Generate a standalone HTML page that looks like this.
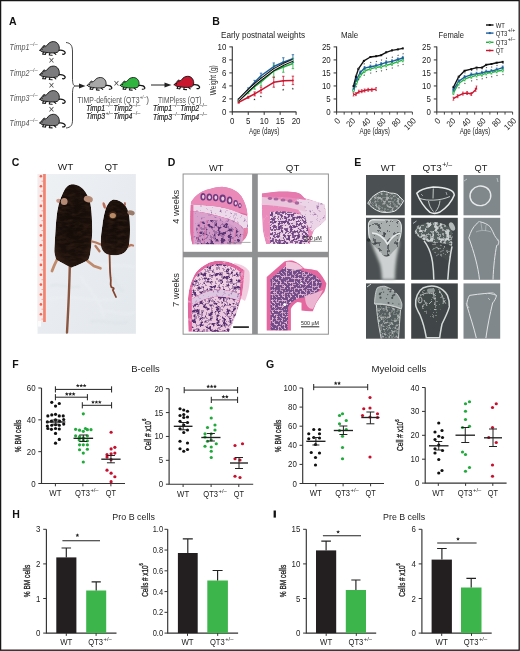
<!DOCTYPE html>
<html><head><meta charset="utf-8"><style>
html,body{margin:0;padding:0;background:#fff;}
body{width:520px;height:651px;overflow:hidden;}
svg{display:block;font-family:"Liberation Sans", sans-serif;will-change:transform;}
</style></head><body>
<svg width="520" height="651" viewBox="0 0 520 651">
<rect x="0" y="0" width="520" height="651" fill="#fff"/>
<text x="9.00" y="24.60" font-size="10.5" text-anchor="start" font-weight="bold" font-style="normal" fill="#111" >A</text>
<g transform="translate(39.80,41.50) scale(1.0,1.0)" stroke="#151515" stroke-width="0.95" stroke-linejoin="round" stroke-linecap="round"><path fill="none" stroke-width="1.25" d="M18.6,8.8 C21.5,8.4 24.5,9.2 25.3,10.8 C25.8,12.1 24.4,13 22.8,12.7" /><path fill="none" stroke-width="1.15" d="M3.8,10.3 L2.9,12.6 L4.9,12.8 M6.2,11 L5.6,12.9 M10.2,11.3 L9.5,13.5 L12.3,13.7 M14.2,11.3 L16,12.9" /><path fill="#7b7b7d" d="M0.2,8.8 C0.8,7.4 1.8,6.4 3,5.6 C3.2,4.0 4.8,3.5 5.7,4.6 C6.4,4.4 7,4.2 7.4,3.8 C8.6,1.4 11,0.1 13.6,0.1 C17,0.1 19.5,3 19.5,6.8 C19.5,8.6 18.8,10 17.6,10.8 C15,11.6 11,11.6 8.5,11.2 C6.5,11 4.5,10.6 3,10.4 C1.8,10.2 0.6,9.6 0.2,8.8 Z" /><path fill="none" stroke-width="0.7" d="M3.5,6 C3.7,5.1 4.5,4.8 5.1,5.4" /><circle cx="2.3" cy="7.7" r="0.65" fill="#111" stroke="none"/></g>
<text x="9.6" y="50.2" font-size="8.6" font-style="italic" fill="#555" textLength="19.8" lengthAdjust="spacingAndGlyphs">Timp1</text>
<text x="29.8" y="46.0" font-size="5.2" fill="#555" textLength="8" lengthAdjust="spacingAndGlyphs">–/–</text>
<g transform="translate(39.80,66.00) scale(1.0,1.0)" stroke="#151515" stroke-width="0.95" stroke-linejoin="round" stroke-linecap="round"><path fill="none" stroke-width="1.25" d="M18.6,8.8 C21.5,8.4 24.5,9.2 25.3,10.8 C25.8,12.1 24.4,13 22.8,12.7" /><path fill="none" stroke-width="1.15" d="M3.8,10.3 L2.9,12.6 L4.9,12.8 M6.2,11 L5.6,12.9 M10.2,11.3 L9.5,13.5 L12.3,13.7 M14.2,11.3 L16,12.9" /><path fill="#7b7b7d" d="M0.2,8.8 C0.8,7.4 1.8,6.4 3,5.6 C3.2,4.0 4.8,3.5 5.7,4.6 C6.4,4.4 7,4.2 7.4,3.8 C8.6,1.4 11,0.1 13.6,0.1 C17,0.1 19.5,3 19.5,6.8 C19.5,8.6 18.8,10 17.6,10.8 C15,11.6 11,11.6 8.5,11.2 C6.5,11 4.5,10.6 3,10.4 C1.8,10.2 0.6,9.6 0.2,8.8 Z" /><path fill="none" stroke-width="0.7" d="M3.5,6 C3.7,5.1 4.5,4.8 5.1,5.4" /><circle cx="2.3" cy="7.7" r="0.65" fill="#111" stroke="none"/></g>
<text x="9.6" y="76.3" font-size="8.6" font-style="italic" fill="#555" textLength="19.8" lengthAdjust="spacingAndGlyphs">Timp2</text>
<text x="29.8" y="72.1" font-size="5.2" fill="#555" textLength="8" lengthAdjust="spacingAndGlyphs">–/–</text>
<g transform="translate(39.80,90.50) scale(1.0,1.0)" stroke="#151515" stroke-width="0.95" stroke-linejoin="round" stroke-linecap="round"><path fill="none" stroke-width="1.25" d="M18.6,8.8 C21.5,8.4 24.5,9.2 25.3,10.8 C25.8,12.1 24.4,13 22.8,12.7" /><path fill="none" stroke-width="1.15" d="M3.8,10.3 L2.9,12.6 L4.9,12.8 M6.2,11 L5.6,12.9 M10.2,11.3 L9.5,13.5 L12.3,13.7 M14.2,11.3 L16,12.9" /><path fill="#7b7b7d" d="M0.2,8.8 C0.8,7.4 1.8,6.4 3,5.6 C3.2,4.0 4.8,3.5 5.7,4.6 C6.4,4.4 7,4.2 7.4,3.8 C8.6,1.4 11,0.1 13.6,0.1 C17,0.1 19.5,3 19.5,6.8 C19.5,8.6 18.8,10 17.6,10.8 C15,11.6 11,11.6 8.5,11.2 C6.5,11 4.5,10.6 3,10.4 C1.8,10.2 0.6,9.6 0.2,8.8 Z" /><path fill="none" stroke-width="0.7" d="M3.5,6 C3.7,5.1 4.5,4.8 5.1,5.4" /><circle cx="2.3" cy="7.7" r="0.65" fill="#111" stroke="none"/></g>
<text x="9.6" y="101.3" font-size="8.6" font-style="italic" fill="#555" textLength="19.8" lengthAdjust="spacingAndGlyphs">Timp3</text>
<text x="29.8" y="97.1" font-size="5.2" fill="#555" textLength="8" lengthAdjust="spacingAndGlyphs">–/–</text>
<g transform="translate(39.80,114.20) scale(1.0,1.0)" stroke="#151515" stroke-width="0.95" stroke-linejoin="round" stroke-linecap="round"><path fill="none" stroke-width="1.25" d="M18.6,8.8 C21.5,8.4 24.5,9.2 25.3,10.8 C25.8,12.1 24.4,13 22.8,12.7" /><path fill="none" stroke-width="1.15" d="M3.8,10.3 L2.9,12.6 L4.9,12.8 M6.2,11 L5.6,12.9 M10.2,11.3 L9.5,13.5 L12.3,13.7 M14.2,11.3 L16,12.9" /><path fill="#7b7b7d" d="M0.2,8.8 C0.8,7.4 1.8,6.4 3,5.6 C3.2,4.0 4.8,3.5 5.7,4.6 C6.4,4.4 7,4.2 7.4,3.8 C8.6,1.4 11,0.1 13.6,0.1 C17,0.1 19.5,3 19.5,6.8 C19.5,8.6 18.8,10 17.6,10.8 C15,11.6 11,11.6 8.5,11.2 C6.5,11 4.5,10.6 3,10.4 C1.8,10.2 0.6,9.6 0.2,8.8 Z" /><path fill="none" stroke-width="0.7" d="M3.5,6 C3.7,5.1 4.5,4.8 5.1,5.4" /><circle cx="2.3" cy="7.7" r="0.65" fill="#111" stroke="none"/></g>
<text x="9.6" y="125.8" font-size="8.6" font-style="italic" fill="#555" textLength="19.8" lengthAdjust="spacingAndGlyphs">Timp4</text>
<text x="29.8" y="121.6" font-size="5.2" fill="#555" textLength="8" lengthAdjust="spacingAndGlyphs">–/–</text>
<text x="51.4" y="64.2" font-size="10" text-anchor="middle" fill="#444">×</text>
<text x="51.4" y="88.8" font-size="10" text-anchor="middle" fill="#444">×</text>
<text x="51.4" y="113.0" font-size="10" text-anchor="middle" fill="#444">×</text>
<path d="M66,42.5 C71,43 72.5,46 72.5,52 L72.5,78 C72.5,83 73,85.3 75,86 C73,86.7 72.5,89 72.5,94 L72.5,120 C72.5,125 71,127.5 66,128" fill="none" stroke="#333" stroke-width="0.9"/>
<path d="M75,86 L80,86" stroke="#222" stroke-width="1"/><path d="M79,83.6 L85.5,86 L79,88.4 Z" fill="#222"/>
<g transform="translate(87.20,77.40) scale(0.97,0.93)" stroke="#151515" stroke-width="0.95" stroke-linejoin="round" stroke-linecap="round"><path fill="none" stroke-width="1.25" d="M18.6,8.8 C21.5,8.4 24.5,9.2 25.3,10.8 C25.8,12.1 24.4,13 22.8,12.7" /><path fill="none" stroke-width="1.15" d="M3.8,10.3 L2.9,12.6 L4.9,12.8 M6.2,11 L5.6,12.9 M10.2,11.3 L9.5,13.5 L12.3,13.7 M14.2,11.3 L16,12.9" /><path fill="#a8a8a8" d="M0.2,8.8 C0.8,7.4 1.8,6.4 3,5.6 C3.2,4.0 4.8,3.5 5.7,4.6 C6.4,4.4 7,4.2 7.4,3.8 C8.6,1.4 11,0.1 13.6,0.1 C17,0.1 19.5,3 19.5,6.8 C19.5,8.6 18.8,10 17.6,10.8 C15,11.6 11,11.6 8.5,11.2 C6.5,11 4.5,10.6 3,10.4 C1.8,10.2 0.6,9.6 0.2,8.8 Z" /><path fill="none" stroke-width="0.7" d="M3.5,6 C3.7,5.1 4.5,4.8 5.1,5.4" /><circle cx="2.3" cy="7.7" r="0.65" fill="#111" stroke="none"/></g>
<text x="116.3" y="87.4" font-size="10" text-anchor="middle" fill="#444">×</text>
<g transform="translate(120.20,77.40) scale(0.97,0.93)" stroke="#151515" stroke-width="0.95" stroke-linejoin="round" stroke-linecap="round"><path fill="none" stroke-width="1.25" d="M18.6,8.8 C21.5,8.4 24.5,9.2 25.3,10.8 C25.8,12.1 24.4,13 22.8,12.7" /><path fill="none" stroke-width="1.15" d="M3.8,10.3 L2.9,12.6 L4.9,12.8 M6.2,11 L5.6,12.9 M10.2,11.3 L9.5,13.5 L12.3,13.7 M14.2,11.3 L16,12.9" /><path fill="#2fb53f" d="M0.2,8.8 C0.8,7.4 1.8,6.4 3,5.6 C3.2,4.0 4.8,3.5 5.7,4.6 C6.4,4.4 7,4.2 7.4,3.8 C8.6,1.4 11,0.1 13.6,0.1 C17,0.1 19.5,3 19.5,6.8 C19.5,8.6 18.8,10 17.6,10.8 C15,11.6 11,11.6 8.5,11.2 C6.5,11 4.5,10.6 3,10.4 C1.8,10.2 0.6,9.6 0.2,8.8 Z" /><path fill="none" stroke-width="0.7" d="M3.5,6 C3.7,5.1 4.5,4.8 5.1,5.4" /><circle cx="2.3" cy="7.7" r="0.65" fill="#111" stroke="none"/></g>
<path d="M151,85 L166,85" stroke="#222" stroke-width="1"/><path d="M164.5,82.6 L171.5,85 L164.5,87.4 Z" fill="#222"/>
<g transform="translate(174.20,76.20) scale(1.0,0.98)" stroke="#151515" stroke-width="0.95" stroke-linejoin="round" stroke-linecap="round"><path fill="none" stroke-width="1.25" d="M18.6,8.8 C21.5,8.4 24.5,9.2 25.3,10.8 C25.8,12.1 24.4,13 22.8,12.7" /><path fill="none" stroke-width="1.15" d="M3.8,10.3 L2.9,12.6 L4.9,12.8 M6.2,11 L5.6,12.9 M10.2,11.3 L9.5,13.5 L12.3,13.7 M14.2,11.3 L16,12.9" /><path fill="#c8172e" d="M0.2,8.8 C0.8,7.4 1.8,6.4 3,5.6 C3.2,4.0 4.8,3.5 5.7,4.6 C6.4,4.4 7,4.2 7.4,3.8 C8.6,1.4 11,0.1 13.6,0.1 C17,0.1 19.5,3 19.5,6.8 C19.5,8.6 18.8,10 17.6,10.8 C15,11.6 11,11.6 8.5,11.2 C6.5,11 4.5,10.6 3,10.4 C1.8,10.2 0.6,9.6 0.2,8.8 Z" /><path fill="none" stroke-width="0.7" d="M3.5,6 C3.7,5.1 4.5,4.8 5.1,5.4" /><circle cx="2.3" cy="7.7" r="0.65" fill="#111" stroke="none"/></g>
<text x="77.5" y="103.2" font-size="8.2" fill="#555" textLength="62" lengthAdjust="spacingAndGlyphs">TIMP-deficient (QT3</text>
<text x="139.7" y="99.2" font-size="5" fill="#555" textLength="6.5" lengthAdjust="spacingAndGlyphs">+/–</text>
<text x="146.3" y="103.2" font-size="8.2" fill="#555">)</text>
<text x="86.2" y="111.0" font-size="8.4" font-style="italic" fill="#222" stroke="#222" stroke-width="0.2" textLength="19" lengthAdjust="spacingAndGlyphs">Timp1</text>
<text x="105.4" y="107.3" font-size="5.4" fill="#333" textLength="7.8" lengthAdjust="spacingAndGlyphs">–/–</text>
<text x="113.4" y="111.0" font-size="8.4" font-style="italic" fill="#222" stroke="#222" stroke-width="0.2" textLength="19" lengthAdjust="spacingAndGlyphs">Timp2</text>
<text x="132.6" y="107.3" font-size="5.4" fill="#333" textLength="7.8" lengthAdjust="spacingAndGlyphs">–/–</text>
<text x="86.2" y="118.8" font-size="8.4" font-style="italic" fill="#222" stroke="#222" stroke-width="0.2" textLength="19" lengthAdjust="spacingAndGlyphs">Timp3</text>
<text x="105.4" y="115.1" font-size="5.4" fill="#333" textLength="7.8" lengthAdjust="spacingAndGlyphs">+/–</text>
<text x="113.4" y="118.8" font-size="8.4" font-style="italic" fill="#222" stroke="#222" stroke-width="0.2" textLength="19" lengthAdjust="spacingAndGlyphs">Timp4</text>
<text x="132.6" y="115.1" font-size="5.4" fill="#333" textLength="7.8" lengthAdjust="spacingAndGlyphs">–/–</text>
<text x="158" y="103.2" font-size="8.2" fill="#555" textLength="43.5" lengthAdjust="spacingAndGlyphs">TIMPless (QT)</text>
<text x="153.0" y="111.0" font-size="8.4" font-style="italic" fill="#222" stroke="#222" stroke-width="0.2" textLength="19" lengthAdjust="spacingAndGlyphs">Timp1</text>
<text x="172.2" y="107.3" font-size="5.4" fill="#333" textLength="7.8" lengthAdjust="spacingAndGlyphs">–/–</text>
<text x="180.2" y="111.0" font-size="8.4" font-style="italic" fill="#222" stroke="#222" stroke-width="0.2" textLength="19" lengthAdjust="spacingAndGlyphs">Timp2</text>
<text x="199.4" y="107.3" font-size="5.4" fill="#333" textLength="7.8" lengthAdjust="spacingAndGlyphs">–/–</text>
<text x="153.0" y="119.6" font-size="8.4" font-style="italic" fill="#222" stroke="#222" stroke-width="0.2" textLength="19" lengthAdjust="spacingAndGlyphs">Timp3</text>
<text x="172.2" y="115.89999999999999" font-size="5.4" fill="#333" textLength="7.8" lengthAdjust="spacingAndGlyphs">–/–</text>
<text x="180.2" y="119.6" font-size="8.4" font-style="italic" fill="#222" stroke="#222" stroke-width="0.2" textLength="19" lengthAdjust="spacingAndGlyphs">Timp4</text>
<text x="199.4" y="115.89999999999999" font-size="5.4" fill="#333" textLength="7.8" lengthAdjust="spacingAndGlyphs">–/–</text>
<text x="212.30" y="24.60" font-size="10.5" text-anchor="start" font-weight="bold" font-style="normal" fill="#111" >B</text>
<text x="221.00" y="38.30" font-size="8.2" text-anchor="start" font-weight="normal" font-style="normal" fill="#222" textLength="84" lengthAdjust="spacingAndGlyphs" >Early postnatal weights</text>
<path d="M232.3,46.6 L232.3,111.9 L296.3,111.9" fill="none" stroke="#333" stroke-width="1.1"/>
<path d="M229.3,111.90 L232.3,111.90" stroke="#333" stroke-width="1"/>
<text x="226.40" y="114.90" font-size="9.0" text-anchor="end" font-weight="normal" font-style="normal" fill="#222" textLength="4.40" lengthAdjust="spacingAndGlyphs" >0</text>
<path d="M229.3,98.90 L232.3,98.90" stroke="#333" stroke-width="1"/>
<text x="226.40" y="101.90" font-size="9.0" text-anchor="end" font-weight="normal" font-style="normal" fill="#222" textLength="4.40" lengthAdjust="spacingAndGlyphs" >2</text>
<path d="M229.3,85.90 L232.3,85.90" stroke="#333" stroke-width="1"/>
<text x="226.40" y="88.90" font-size="9.0" text-anchor="end" font-weight="normal" font-style="normal" fill="#222" textLength="4.40" lengthAdjust="spacingAndGlyphs" >4</text>
<path d="M229.3,72.90 L232.3,72.90" stroke="#333" stroke-width="1"/>
<text x="226.40" y="75.90" font-size="9.0" text-anchor="end" font-weight="normal" font-style="normal" fill="#222" textLength="4.40" lengthAdjust="spacingAndGlyphs" >6</text>
<path d="M229.3,59.90 L232.3,59.90" stroke="#333" stroke-width="1"/>
<text x="226.40" y="62.90" font-size="9.0" text-anchor="end" font-weight="normal" font-style="normal" fill="#222" textLength="4.40" lengthAdjust="spacingAndGlyphs" >8</text>
<path d="M229.3,46.90 L232.3,46.90" stroke="#333" stroke-width="1"/>
<text x="226.40" y="49.90" font-size="9.0" text-anchor="end" font-weight="normal" font-style="normal" fill="#222" textLength="8.80" lengthAdjust="spacingAndGlyphs" >10</text>
<path d="M232.30,111.9 L232.30,114.9" stroke="#333" stroke-width="1"/>
<text x="232.30" y="123.60" font-size="9.0" text-anchor="middle" font-weight="normal" font-style="normal" fill="#222" textLength="4.40" lengthAdjust="spacingAndGlyphs" >0</text>
<path d="M248.25,111.9 L248.25,114.9" stroke="#333" stroke-width="1"/>
<text x="248.25" y="123.60" font-size="9.0" text-anchor="middle" font-weight="normal" font-style="normal" fill="#222" textLength="4.40" lengthAdjust="spacingAndGlyphs" >5</text>
<path d="M264.20,111.9 L264.20,114.9" stroke="#333" stroke-width="1"/>
<text x="264.20" y="123.60" font-size="9.0" text-anchor="middle" font-weight="normal" font-style="normal" fill="#222" textLength="8.80" lengthAdjust="spacingAndGlyphs" >10</text>
<path d="M280.15,111.9 L280.15,114.9" stroke="#333" stroke-width="1"/>
<text x="280.15" y="123.60" font-size="9.0" text-anchor="middle" font-weight="normal" font-style="normal" fill="#222" textLength="8.80" lengthAdjust="spacingAndGlyphs" >15</text>
<path d="M296.10,111.9 L296.10,114.9" stroke="#333" stroke-width="1"/>
<text x="296.10" y="123.60" font-size="9.0" text-anchor="middle" font-weight="normal" font-style="normal" fill="#222" textLength="8.80" lengthAdjust="spacingAndGlyphs" >20</text>
<text x="264.20" y="133.80" font-size="8.8" text-anchor="middle" font-weight="normal" font-style="normal" fill="#222" textLength="30.5" lengthAdjust="spacingAndGlyphs" >Age (days)</text>
<text transform="translate(212.37,80.20) rotate(-90)" x="0" y="0" font-size="9.4" font-weight="normal" text-anchor="middle" dominant-baseline="central" fill="#2a2a2a" textLength="30" lengthAdjust="spacingAndGlyphs">Weight (g)</text>
<path d="M238.68,99.22 L238.68,100.53 M237.48,99.22 L239.88,99.22 M237.48,100.53 L239.88,100.53" stroke="#1d5f9e" stroke-width="0.8" fill="none"/>
<path d="M248.25,87.92 L248.25,90.52 M247.05,87.92 L249.45,87.92 M247.05,90.52 L249.45,90.52" stroke="#1d5f9e" stroke-width="0.8" fill="none"/>
<path d="M254.63,80.38 L254.63,84.28 M253.43,80.38 L255.83,80.38 M253.43,84.28 L255.83,84.28" stroke="#1d5f9e" stroke-width="0.8" fill="none"/>
<path d="M261.01,73.16 L261.01,78.36 M259.81,73.16 L262.21,73.16 M259.81,78.36 L262.21,78.36" stroke="#1d5f9e" stroke-width="0.8" fill="none"/>
<path d="M273.77,62.95 L273.77,70.11 M272.57,62.95 L274.97,62.95 M272.57,70.11 L274.97,70.11" stroke="#1d5f9e" stroke-width="0.8" fill="none"/>
<path d="M283.34,57.76 L283.34,66.86 M282.14,57.76 L284.54,57.76 M282.14,66.86 L284.54,66.86" stroke="#1d5f9e" stroke-width="0.8" fill="none"/>
<path d="M292.91,54.70 L292.91,62.50 M291.71,54.70 L294.11,54.70 M291.71,62.50 L294.11,62.50" stroke="#1d5f9e" stroke-width="0.8" fill="none"/>
<path d="M238.68,99.88 L238.68,101.18 M237.48,99.88 L239.88,99.88 M237.48,101.18 L239.88,101.18" stroke="#22b03f" stroke-width="0.8" fill="none"/>
<path d="M248.25,91.10 L248.25,93.70 M247.05,91.10 L249.45,91.10 M247.05,93.70 L249.45,93.70" stroke="#22b03f" stroke-width="0.8" fill="none"/>
<path d="M254.63,83.95 L254.63,89.15 M253.43,83.95 L255.83,83.95 M253.43,89.15 L255.83,89.15" stroke="#22b03f" stroke-width="0.8" fill="none"/>
<path d="M261.01,78.10 L261.01,85.90 M259.81,78.10 L262.21,78.10 M259.81,85.90 L262.21,85.90" stroke="#22b03f" stroke-width="0.8" fill="none"/>
<path d="M273.77,65.10 L273.77,76.80 M272.57,65.10 L274.97,65.10 M272.57,76.80 L274.97,76.80" stroke="#22b03f" stroke-width="0.8" fill="none"/>
<path d="M283.34,61.85 L283.34,72.25 M282.14,61.85 L284.54,61.85 M282.14,72.25 L284.54,72.25" stroke="#22b03f" stroke-width="0.8" fill="none"/>
<path d="M292.91,58.27 L292.91,68.67 M291.71,58.27 L294.11,58.27 M291.71,68.67 L294.11,68.67" stroke="#22b03f" stroke-width="0.8" fill="none"/>
<path d="M238.68,101.76 L238.68,103.06 M237.48,101.76 L239.88,101.76 M237.48,103.06 L239.88,103.06" stroke="#cc1530" stroke-width="0.8" fill="none"/>
<path d="M248.25,96.30 L248.25,98.25 M247.05,96.30 L249.45,96.30 M247.05,98.25 L249.45,98.25" stroke="#cc1530" stroke-width="0.8" fill="none"/>
<path d="M254.63,91.95 L254.63,95.85 M253.43,91.95 L255.83,91.95 M253.43,95.85 L255.83,95.85" stroke="#cc1530" stroke-width="0.8" fill="none"/>
<path d="M261.01,87.14 L261.01,92.98 M259.81,87.14 L262.21,87.14 M259.81,92.98 L262.21,92.98" stroke="#cc1530" stroke-width="0.8" fill="none"/>
<path d="M273.77,77.45 L273.77,87.20 M272.57,77.45 L274.97,77.45 M272.57,87.20 L274.97,87.20" stroke="#cc1530" stroke-width="0.8" fill="none"/>
<path d="M283.34,76.28 L283.34,85.38 M282.14,76.28 L284.54,76.28 M282.14,85.38 L284.54,85.38" stroke="#cc1530" stroke-width="0.8" fill="none"/>
<path d="M292.91,76.15 L292.91,84.60 M291.71,76.15 L294.11,76.15 M291.71,84.60 L294.11,84.60" stroke="#cc1530" stroke-width="0.8" fill="none"/>
<polyline points="238.68,100.53 248.25,92.40 254.63,86.55 261.01,82.00 273.77,70.95 283.34,67.05 292.91,63.48" fill="none" stroke="#22b03f" stroke-width="1.5" stroke-linejoin="round" />
<polyline points="238.68,99.88 248.25,89.22 254.63,82.33 261.01,75.76 273.77,66.53 283.34,62.31 292.91,58.60" fill="none" stroke="#1d5f9e" stroke-width="1.5" stroke-linejoin="round" />
<polyline points="238.68,100.07 248.25,90.45 254.63,84.60 261.01,79.40 273.77,69.65 283.34,64.45 292.91,60.23" fill="none" stroke="#111" stroke-width="2.9" stroke-linejoin="round" />
<polyline points="238.68,100.07 248.25,90.45 254.63,84.60 261.01,79.40 273.77,69.65 283.34,64.45 292.91,60.23" fill="none" stroke="#fff" stroke-width="0.9" stroke-linejoin="round" />
<polyline points="238.68,102.41 248.25,97.28 254.63,93.90 261.01,90.06 273.77,82.33 283.34,80.83 292.91,80.38" fill="none" stroke="#cc1530" stroke-width="1.5" stroke-linejoin="round" />
<circle cx="238.68" cy="102.41" r="0.90" fill="#cc1530"/>
<circle cx="248.25" cy="97.28" r="0.90" fill="#cc1530"/>
<circle cx="254.63" cy="93.90" r="0.90" fill="#cc1530"/>
<circle cx="261.01" cy="90.06" r="0.90" fill="#cc1530"/>
<circle cx="273.77" cy="82.33" r="0.90" fill="#cc1530"/>
<circle cx="283.34" cy="80.83" r="0.90" fill="#cc1530"/>
<circle cx="292.91" cy="80.38" r="0.90" fill="#cc1530"/>
<polygon points="254.50,98.25 254.80,98.98 255.59,99.04 254.99,99.56 255.18,100.33 254.50,99.92 253.82,100.33 254.01,99.56 253.41,99.04 254.20,98.98" fill="#333"/>
<polygon points="260.90,95.25 261.20,95.98 261.99,96.04 261.39,96.56 261.58,97.33 260.90,96.92 260.22,97.33 260.41,96.56 259.81,96.04 260.60,95.98" fill="#333"/>
<polygon points="283.20,88.55 283.50,89.28 284.29,89.34 283.69,89.86 283.88,90.63 283.20,90.22 282.52,90.63 282.71,89.86 282.11,89.34 282.90,89.28" fill="#333"/>
<polygon points="292.80,87.55 293.10,88.28 293.89,88.34 293.29,88.86 293.48,89.63 292.80,89.22 292.12,89.63 292.31,88.86 291.71,88.34 292.50,88.28" fill="#333"/>
<text x="341.00" y="38.30" font-size="8.2" text-anchor="start" font-weight="normal" font-style="normal" fill="#222" textLength="17.2" lengthAdjust="spacingAndGlyphs" >Male</text>
<path d="M336.6,46.6 L336.6,112.0 L412.40000000000003,112.0" fill="none" stroke="#333" stroke-width="1.1"/>
<path d="M333.6,112.00 L336.6,112.00" stroke="#333" stroke-width="1"/>
<text x="330.70" y="115.00" font-size="9.0" text-anchor="end" font-weight="normal" font-style="normal" fill="#222" textLength="4.40" lengthAdjust="spacingAndGlyphs" >0</text>
<path d="M333.6,98.98 L336.6,98.98" stroke="#333" stroke-width="1"/>
<text x="330.70" y="101.98" font-size="9.0" text-anchor="end" font-weight="normal" font-style="normal" fill="#222" textLength="4.40" lengthAdjust="spacingAndGlyphs" >5</text>
<path d="M333.6,85.96 L336.6,85.96" stroke="#333" stroke-width="1"/>
<text x="330.70" y="88.96" font-size="9.0" text-anchor="end" font-weight="normal" font-style="normal" fill="#222" textLength="8.80" lengthAdjust="spacingAndGlyphs" >10</text>
<path d="M333.6,72.94 L336.6,72.94" stroke="#333" stroke-width="1"/>
<text x="330.70" y="75.94" font-size="9.0" text-anchor="end" font-weight="normal" font-style="normal" fill="#222" textLength="8.80" lengthAdjust="spacingAndGlyphs" >15</text>
<path d="M333.6,59.92 L336.6,59.92" stroke="#333" stroke-width="1"/>
<text x="330.70" y="62.92" font-size="9.0" text-anchor="end" font-weight="normal" font-style="normal" fill="#222" textLength="8.80" lengthAdjust="spacingAndGlyphs" >20</text>
<path d="M333.6,46.90 L336.6,46.90" stroke="#333" stroke-width="1"/>
<text x="330.70" y="49.90" font-size="9.0" text-anchor="end" font-weight="normal" font-style="normal" fill="#222" textLength="8.80" lengthAdjust="spacingAndGlyphs" >25</text>
<path d="M336.60,112.0 L336.60,114.6" stroke="#333" stroke-width="0.9"/>
<text transform="translate(336.20,117.0) rotate(-45)" x="0" y="0" font-size="8.6" text-anchor="end" dominant-baseline="hanging" fill="#222" textLength="4.3" lengthAdjust="spacingAndGlyphs">0</text>
<path d="M344.18,112.0 L344.18,114.6" stroke="#333" stroke-width="0.9"/>
<path d="M351.76,112.0 L351.76,114.6" stroke="#333" stroke-width="0.9"/>
<text transform="translate(351.36,117.0) rotate(-45)" x="0" y="0" font-size="8.6" text-anchor="end" dominant-baseline="hanging" fill="#222" textLength="8.6" lengthAdjust="spacingAndGlyphs">20</text>
<path d="M359.34,112.0 L359.34,114.6" stroke="#333" stroke-width="0.9"/>
<path d="M366.92,112.0 L366.92,114.6" stroke="#333" stroke-width="0.9"/>
<text transform="translate(366.52,117.0) rotate(-45)" x="0" y="0" font-size="8.6" text-anchor="end" dominant-baseline="hanging" fill="#222" textLength="8.6" lengthAdjust="spacingAndGlyphs">40</text>
<path d="M374.50,112.0 L374.50,114.6" stroke="#333" stroke-width="0.9"/>
<path d="M382.08,112.0 L382.08,114.6" stroke="#333" stroke-width="0.9"/>
<text transform="translate(381.68,117.0) rotate(-45)" x="0" y="0" font-size="8.6" text-anchor="end" dominant-baseline="hanging" fill="#222" textLength="8.6" lengthAdjust="spacingAndGlyphs">60</text>
<path d="M389.66,112.0 L389.66,114.6" stroke="#333" stroke-width="0.9"/>
<path d="M397.24,112.0 L397.24,114.6" stroke="#333" stroke-width="0.9"/>
<text transform="translate(396.84,117.0) rotate(-45)" x="0" y="0" font-size="8.6" text-anchor="end" dominant-baseline="hanging" fill="#222" textLength="8.6" lengthAdjust="spacingAndGlyphs">80</text>
<path d="M404.82,112.0 L404.82,114.6" stroke="#333" stroke-width="0.9"/>
<path d="M412.40,112.0 L412.40,114.6" stroke="#333" stroke-width="0.9"/>
<text transform="translate(412.00,117.0) rotate(-45)" x="0" y="0" font-size="8.6" text-anchor="end" dominant-baseline="hanging" fill="#222" textLength="12.9" lengthAdjust="spacingAndGlyphs">100</text>
<text x="374.70" y="134.20" font-size="8.8" text-anchor="middle" font-weight="normal" font-style="normal" fill="#222" textLength="30.5" lengthAdjust="spacingAndGlyphs" >Age (days)</text>
<path d="M353.50,88.20 L353.50,91.40 M352.60,88.20 L354.40,88.20 M352.60,91.40 L354.40,91.40" stroke="#1d5f9e" stroke-width="0.7" fill="none"/>
<path d="M356.60,77.40 L356.60,80.60 M355.70,77.40 L357.50,77.40 M355.70,80.60 L357.50,80.60" stroke="#1d5f9e" stroke-width="0.7" fill="none"/>
<path d="M360.30,70.90 L360.30,74.10 M359.40,70.90 L361.20,70.90 M359.40,74.10 L361.20,74.10" stroke="#1d5f9e" stroke-width="0.7" fill="none"/>
<path d="M364.60,66.50 L364.60,69.70 M363.70,66.50 L365.50,66.50 M363.70,69.70 L365.50,69.70" stroke="#1d5f9e" stroke-width="0.7" fill="none"/>
<path d="M370.40,65.10 L370.40,68.30 M369.50,65.10 L371.30,65.10 M369.50,68.30 L371.30,68.30" stroke="#1d5f9e" stroke-width="0.7" fill="none"/>
<path d="M376.10,64.10 L376.10,67.30 M375.20,64.10 L377.00,64.10 M375.20,67.30 L377.00,67.30" stroke="#1d5f9e" stroke-width="0.7" fill="none"/>
<path d="M381.20,62.60 L381.20,65.80 M380.30,62.60 L382.10,62.60 M380.30,65.80 L382.10,65.80" stroke="#1d5f9e" stroke-width="0.7" fill="none"/>
<path d="M386.20,60.80 L386.20,64.00 M385.30,60.80 L387.10,60.80 M385.30,64.00 L387.10,64.00" stroke="#1d5f9e" stroke-width="0.7" fill="none"/>
<path d="M392.00,59.80 L392.00,63.00 M391.10,59.80 L392.90,59.80 M391.10,63.00 L392.90,63.00" stroke="#1d5f9e" stroke-width="0.7" fill="none"/>
<path d="M397.80,57.90 L397.80,61.10 M396.90,57.90 L398.70,57.90 M396.90,61.10 L398.70,61.10" stroke="#1d5f9e" stroke-width="0.7" fill="none"/>
<path d="M402.80,56.40 L402.80,59.60 M401.90,56.40 L403.70,56.40 M401.90,59.60 L403.70,59.60" stroke="#1d5f9e" stroke-width="0.7" fill="none"/>
<path d="M353.50,88.90 L353.50,92.10 M352.60,88.90 L354.40,88.90 M352.60,92.10 L354.40,92.10" stroke="#22b03f" stroke-width="0.7" fill="none"/>
<path d="M356.60,81.00 L356.60,84.20 M355.70,81.00 L357.50,81.00 M355.70,84.20 L357.50,84.20" stroke="#22b03f" stroke-width="0.7" fill="none"/>
<path d="M360.30,73.80 L360.30,77.00 M359.40,73.80 L361.20,73.80 M359.40,77.00 L361.20,77.00" stroke="#22b03f" stroke-width="0.7" fill="none"/>
<path d="M364.60,69.40 L364.60,72.60 M363.70,69.40 L365.50,69.40 M363.70,72.60 L365.50,72.60" stroke="#22b03f" stroke-width="0.7" fill="none"/>
<path d="M370.40,67.30 L370.40,70.50 M369.50,67.30 L371.30,67.30 M369.50,70.50 L371.30,70.50" stroke="#22b03f" stroke-width="0.7" fill="none"/>
<path d="M376.10,65.80 L376.10,69.00 M375.20,65.80 L377.00,65.80 M375.20,69.00 L377.00,69.00" stroke="#22b03f" stroke-width="0.7" fill="none"/>
<path d="M381.20,65.10 L381.20,68.30 M380.30,65.10 L382.10,65.10 M380.30,68.30 L382.10,68.30" stroke="#22b03f" stroke-width="0.7" fill="none"/>
<path d="M386.20,63.70 L386.20,66.90 M385.30,63.70 L387.10,63.70 M385.30,66.90 L387.10,66.90" stroke="#22b03f" stroke-width="0.7" fill="none"/>
<path d="M392.00,62.20 L392.00,65.40 M391.10,62.20 L392.90,62.20 M391.10,65.40 L392.90,65.40" stroke="#22b03f" stroke-width="0.7" fill="none"/>
<path d="M397.80,60.00 L397.80,63.20 M396.90,60.00 L398.70,60.00 M396.90,63.20 L398.70,63.20" stroke="#22b03f" stroke-width="0.7" fill="none"/>
<path d="M402.80,58.60 L402.80,61.80 M401.90,58.60 L403.70,58.60 M401.90,61.80 L403.70,61.80" stroke="#22b03f" stroke-width="0.7" fill="none"/>
<polyline points="353.50,90.50 356.60,82.60 360.30,75.40 364.60,71.00 370.40,68.90 376.10,67.40 381.20,66.70 386.20,65.30 392.00,63.80 397.80,61.60 402.80,60.20" fill="none" stroke="#22b03f" stroke-width="1.4" stroke-linejoin="round" />
<polyline points="353.50,89.80 356.60,79.00 360.30,72.50 364.60,68.10 370.40,66.70 376.10,65.70 381.20,64.20 386.20,62.40 392.00,61.40 397.80,59.50 402.80,58.00" fill="none" stroke="#1d5f9e" stroke-width="1.4" stroke-linejoin="round" />
<polyline points="353.50,86.20 355.90,76.80 358.40,68.90 363.90,60.90 370.40,57.00 376.10,56.20 381.20,55.20 386.20,52.30 392.00,50.40 397.80,49.40 402.80,48.40" fill="none" stroke="#111" stroke-width="1.4" stroke-linejoin="round" />
<polyline points="353.50,94.50 355.90,94.10 358.80,91.70 361.70,91.20 364.60,90.50 368.20,89.80 371.80,89.80 376.10,89.10" fill="none" stroke="#cc1530" stroke-width="1.4" stroke-linejoin="round" />
<rect x="352.50" y="85.20" width="2.00" height="2.00" fill="#111"/>
<rect x="354.90" y="75.80" width="2.00" height="2.00" fill="#111"/>
<rect x="357.40" y="67.90" width="2.00" height="2.00" fill="#111"/>
<rect x="362.90" y="59.90" width="2.00" height="2.00" fill="#111"/>
<rect x="369.40" y="56.00" width="2.00" height="2.00" fill="#111"/>
<rect x="375.10" y="55.20" width="2.00" height="2.00" fill="#111"/>
<rect x="380.20" y="54.20" width="2.00" height="2.00" fill="#111"/>
<rect x="385.20" y="51.30" width="2.00" height="2.00" fill="#111"/>
<rect x="391.00" y="49.40" width="2.00" height="2.00" fill="#111"/>
<rect x="396.80" y="48.40" width="2.00" height="2.00" fill="#111"/>
<rect x="401.80" y="47.40" width="2.00" height="2.00" fill="#111"/>
<rect x="352.50" y="88.80" width="2.00" height="2.00" fill="#1d5f9e"/>
<rect x="355.60" y="78.00" width="2.00" height="2.00" fill="#1d5f9e"/>
<rect x="359.30" y="71.50" width="2.00" height="2.00" fill="#1d5f9e"/>
<rect x="363.60" y="67.10" width="2.00" height="2.00" fill="#1d5f9e"/>
<rect x="369.40" y="65.70" width="2.00" height="2.00" fill="#1d5f9e"/>
<rect x="375.10" y="64.70" width="2.00" height="2.00" fill="#1d5f9e"/>
<rect x="380.20" y="63.20" width="2.00" height="2.00" fill="#1d5f9e"/>
<rect x="385.20" y="61.40" width="2.00" height="2.00" fill="#1d5f9e"/>
<rect x="391.00" y="60.40" width="2.00" height="2.00" fill="#1d5f9e"/>
<rect x="396.80" y="58.50" width="2.00" height="2.00" fill="#1d5f9e"/>
<rect x="401.80" y="57.00" width="2.00" height="2.00" fill="#1d5f9e"/>
<circle cx="353.50" cy="90.50" r="0.90" fill="#fff" stroke="#22b03f" stroke-width="0.8"/>
<circle cx="356.60" cy="82.60" r="0.90" fill="#fff" stroke="#22b03f" stroke-width="0.8"/>
<circle cx="360.30" cy="75.40" r="0.90" fill="#fff" stroke="#22b03f" stroke-width="0.8"/>
<circle cx="364.60" cy="71.00" r="0.90" fill="#fff" stroke="#22b03f" stroke-width="0.8"/>
<circle cx="370.40" cy="68.90" r="0.90" fill="#fff" stroke="#22b03f" stroke-width="0.8"/>
<circle cx="376.10" cy="67.40" r="0.90" fill="#fff" stroke="#22b03f" stroke-width="0.8"/>
<circle cx="381.20" cy="66.70" r="0.90" fill="#fff" stroke="#22b03f" stroke-width="0.8"/>
<circle cx="386.20" cy="65.30" r="0.90" fill="#fff" stroke="#22b03f" stroke-width="0.8"/>
<circle cx="392.00" cy="63.80" r="0.90" fill="#fff" stroke="#22b03f" stroke-width="0.8"/>
<circle cx="397.80" cy="61.60" r="0.90" fill="#fff" stroke="#22b03f" stroke-width="0.8"/>
<circle cx="402.80" cy="60.20" r="0.90" fill="#fff" stroke="#22b03f" stroke-width="0.8"/>
<path d="M353.50,93.00 L353.50,96.00 M352.60,93.00 L354.40,93.00 M352.60,96.00 L354.40,96.00" stroke="#cc1530" stroke-width="0.7" fill="none"/>
<path d="M355.90,92.60 L355.90,95.60 M355.00,92.60 L356.80,92.60 M355.00,95.60 L356.80,95.60" stroke="#cc1530" stroke-width="0.7" fill="none"/>
<path d="M358.80,90.20 L358.80,93.20 M357.90,90.20 L359.70,90.20 M357.90,93.20 L359.70,93.20" stroke="#cc1530" stroke-width="0.7" fill="none"/>
<path d="M361.70,89.70 L361.70,92.70 M360.80,89.70 L362.60,89.70 M360.80,92.70 L362.60,92.70" stroke="#cc1530" stroke-width="0.7" fill="none"/>
<path d="M364.60,89.00 L364.60,92.00 M363.70,89.00 L365.50,89.00 M363.70,92.00 L365.50,92.00" stroke="#cc1530" stroke-width="0.7" fill="none"/>
<path d="M368.20,88.30 L368.20,91.30 M367.30,88.30 L369.10,88.30 M367.30,91.30 L369.10,91.30" stroke="#cc1530" stroke-width="0.7" fill="none"/>
<path d="M371.80,88.30 L371.80,91.30 M370.90,88.30 L372.70,88.30 M370.90,91.30 L372.70,91.30" stroke="#cc1530" stroke-width="0.7" fill="none"/>
<path d="M376.10,87.60 L376.10,90.60 M375.20,87.60 L377.00,87.60 M375.20,90.60 L377.00,90.60" stroke="#cc1530" stroke-width="0.7" fill="none"/>
<polygon points="356.20,73.85 356.45,74.45 357.10,74.51 356.61,74.93 356.76,75.57 356.20,75.23 355.64,75.57 355.79,74.93 355.30,74.51 355.95,74.45" fill="#444"/>
<polygon points="356.20,85.85 356.45,86.45 357.10,86.51 356.61,86.93 356.76,87.57 356.20,87.23 355.64,87.57 355.79,86.93 355.30,86.51 355.95,86.45" fill="#444"/>
<polygon points="358.70,67.35 358.95,67.95 359.60,68.01 359.11,68.43 359.26,69.07 358.70,68.73 358.14,69.07 358.29,68.43 357.80,68.01 358.45,67.95" fill="#444"/>
<polygon points="358.70,78.65 358.95,79.25 359.60,79.31 359.11,79.73 359.26,80.37 358.70,80.03 358.14,80.37 358.29,79.73 357.80,79.31 358.45,79.25" fill="#444"/>
<polygon points="364.20,62.95 364.45,63.55 365.10,63.61 364.61,64.03 364.76,64.67 364.20,64.33 363.64,64.67 363.79,64.03 363.30,63.61 363.95,63.55" fill="#444"/>
<polygon points="364.20,74.25 364.45,74.85 365.10,74.91 364.61,75.33 364.76,75.97 364.20,75.63 363.64,75.97 363.79,75.33 363.30,74.91 363.95,74.85" fill="#444"/>
<polygon points="370.70,61.55 370.95,62.15 371.60,62.21 371.11,62.63 371.26,63.27 370.70,62.93 370.14,63.27 370.29,62.63 369.80,62.21 370.45,62.15" fill="#444"/>
<polygon points="370.70,72.15 370.95,72.75 371.60,72.81 371.11,73.23 371.26,73.87 370.70,73.53 370.14,73.87 370.29,73.23 369.80,72.81 370.45,72.75" fill="#444"/>
<polygon points="376.40,60.55 376.65,61.15 377.30,61.21 376.81,61.63 376.96,62.27 376.40,61.93 375.84,62.27 375.99,61.63 375.50,61.21 376.15,61.15" fill="#444"/>
<polygon points="376.40,70.65 376.65,71.25 377.30,71.31 376.81,71.73 376.96,72.37 376.40,72.03 375.84,72.37 375.99,71.73 375.50,71.31 376.15,71.25" fill="#444"/>
<polygon points="381.50,59.05 381.75,59.65 382.40,59.71 381.91,60.13 382.06,60.77 381.50,60.43 380.94,60.77 381.09,60.13 380.60,59.71 381.25,59.65" fill="#444"/>
<polygon points="381.50,69.95 381.75,70.55 382.40,70.61 381.91,71.03 382.06,71.67 381.50,71.33 380.94,71.67 381.09,71.03 380.60,70.61 381.25,70.55" fill="#444"/>
<polygon points="386.50,57.25 386.75,57.85 387.40,57.91 386.91,58.33 387.06,58.97 386.50,58.63 385.94,58.97 386.09,58.33 385.60,57.91 386.25,57.85" fill="#444"/>
<polygon points="386.50,68.55 386.75,69.15 387.40,69.21 386.91,69.63 387.06,70.27 386.50,69.93 385.94,70.27 386.09,69.63 385.60,69.21 386.25,69.15" fill="#444"/>
<polygon points="392.30,56.25 392.55,56.85 393.20,56.91 392.71,57.33 392.86,57.97 392.30,57.63 391.74,57.97 391.89,57.33 391.40,56.91 392.05,56.85" fill="#444"/>
<polygon points="392.30,67.05 392.55,67.65 393.20,67.71 392.71,68.13 392.86,68.77 392.30,68.43 391.74,68.77 391.89,68.13 391.40,67.71 392.05,67.65" fill="#444"/>
<polygon points="398.10,54.35 398.35,54.95 399.00,55.01 398.51,55.43 398.66,56.07 398.10,55.73 397.54,56.07 397.69,55.43 397.20,55.01 397.85,54.95" fill="#444"/>
<polygon points="398.10,64.85 398.35,65.45 399.00,65.51 398.51,65.93 398.66,66.57 398.10,66.23 397.54,66.57 397.69,65.93 397.20,65.51 397.85,65.45" fill="#444"/>
<polygon points="403.10,52.85 403.35,53.45 404.00,53.51 403.51,53.93 403.66,54.57 403.10,54.23 402.54,54.57 402.69,53.93 402.20,53.51 402.85,53.45" fill="#444"/>
<polygon points="403.10,63.45 403.35,64.05 404.00,64.11 403.51,64.53 403.66,65.17 403.10,64.83 402.54,65.17 402.69,64.53 402.20,64.11 402.85,64.05" fill="#444"/>
<text x="438.60" y="38.30" font-size="8.2" text-anchor="start" font-weight="normal" font-style="normal" fill="#222" textLength="25.4" lengthAdjust="spacingAndGlyphs" >Female</text>
<path d="M436.8,46.6 L436.8,112.0 L512.6,112.0" fill="none" stroke="#333" stroke-width="1.1"/>
<path d="M433.8,112.00 L436.8,112.00" stroke="#333" stroke-width="1"/>
<text x="430.90" y="115.00" font-size="9.0" text-anchor="end" font-weight="normal" font-style="normal" fill="#222" textLength="4.40" lengthAdjust="spacingAndGlyphs" >0</text>
<path d="M433.8,98.98 L436.8,98.98" stroke="#333" stroke-width="1"/>
<text x="430.90" y="101.98" font-size="9.0" text-anchor="end" font-weight="normal" font-style="normal" fill="#222" textLength="4.40" lengthAdjust="spacingAndGlyphs" >5</text>
<path d="M433.8,85.96 L436.8,85.96" stroke="#333" stroke-width="1"/>
<text x="430.90" y="88.96" font-size="9.0" text-anchor="end" font-weight="normal" font-style="normal" fill="#222" textLength="8.80" lengthAdjust="spacingAndGlyphs" >10</text>
<path d="M433.8,72.94 L436.8,72.94" stroke="#333" stroke-width="1"/>
<text x="430.90" y="75.94" font-size="9.0" text-anchor="end" font-weight="normal" font-style="normal" fill="#222" textLength="8.80" lengthAdjust="spacingAndGlyphs" >15</text>
<path d="M433.8,59.92 L436.8,59.92" stroke="#333" stroke-width="1"/>
<text x="430.90" y="62.92" font-size="9.0" text-anchor="end" font-weight="normal" font-style="normal" fill="#222" textLength="8.80" lengthAdjust="spacingAndGlyphs" >20</text>
<path d="M433.8,46.90 L436.8,46.90" stroke="#333" stroke-width="1"/>
<text x="430.90" y="49.90" font-size="9.0" text-anchor="end" font-weight="normal" font-style="normal" fill="#222" textLength="8.80" lengthAdjust="spacingAndGlyphs" >25</text>
<path d="M436.80,112.0 L436.80,114.6" stroke="#333" stroke-width="0.9"/>
<text transform="translate(436.40,117.0) rotate(-45)" x="0" y="0" font-size="8.6" text-anchor="end" dominant-baseline="hanging" fill="#222" textLength="4.3" lengthAdjust="spacingAndGlyphs">0</text>
<path d="M444.38,112.0 L444.38,114.6" stroke="#333" stroke-width="0.9"/>
<path d="M451.96,112.0 L451.96,114.6" stroke="#333" stroke-width="0.9"/>
<text transform="translate(451.56,117.0) rotate(-45)" x="0" y="0" font-size="8.6" text-anchor="end" dominant-baseline="hanging" fill="#222" textLength="8.6" lengthAdjust="spacingAndGlyphs">20</text>
<path d="M459.54,112.0 L459.54,114.6" stroke="#333" stroke-width="0.9"/>
<path d="M467.12,112.0 L467.12,114.6" stroke="#333" stroke-width="0.9"/>
<text transform="translate(466.72,117.0) rotate(-45)" x="0" y="0" font-size="8.6" text-anchor="end" dominant-baseline="hanging" fill="#222" textLength="8.6" lengthAdjust="spacingAndGlyphs">40</text>
<path d="M474.70,112.0 L474.70,114.6" stroke="#333" stroke-width="0.9"/>
<path d="M482.28,112.0 L482.28,114.6" stroke="#333" stroke-width="0.9"/>
<text transform="translate(481.88,117.0) rotate(-45)" x="0" y="0" font-size="8.6" text-anchor="end" dominant-baseline="hanging" fill="#222" textLength="8.6" lengthAdjust="spacingAndGlyphs">60</text>
<path d="M489.86,112.0 L489.86,114.6" stroke="#333" stroke-width="0.9"/>
<path d="M497.44,112.0 L497.44,114.6" stroke="#333" stroke-width="0.9"/>
<text transform="translate(497.04,117.0) rotate(-45)" x="0" y="0" font-size="8.6" text-anchor="end" dominant-baseline="hanging" fill="#222" textLength="8.6" lengthAdjust="spacingAndGlyphs">80</text>
<path d="M505.02,112.0 L505.02,114.6" stroke="#333" stroke-width="0.9"/>
<path d="M512.60,112.0 L512.60,114.6" stroke="#333" stroke-width="0.9"/>
<text transform="translate(512.20,117.0) rotate(-45)" x="0" y="0" font-size="8.6" text-anchor="end" dominant-baseline="hanging" fill="#222" textLength="12.9" lengthAdjust="spacingAndGlyphs">100</text>
<text x="474.90" y="134.20" font-size="8.8" text-anchor="middle" font-weight="normal" font-style="normal" fill="#222" textLength="30.5" lengthAdjust="spacingAndGlyphs" >Age (days)</text>
<path d="M453.40,88.20 L453.40,91.40 M452.50,88.20 L454.30,88.20 M452.50,91.40 L454.30,91.40" stroke="#1d5f9e" stroke-width="0.7" fill="none"/>
<path d="M458.70,79.70 L458.70,82.90 M457.80,79.70 L459.60,79.70 M457.80,82.90 L459.60,82.90" stroke="#1d5f9e" stroke-width="0.7" fill="none"/>
<path d="M464.60,75.50 L464.60,78.70 M463.70,75.50 L465.50,75.50 M463.70,78.70 L465.50,78.70" stroke="#1d5f9e" stroke-width="0.7" fill="none"/>
<path d="M471.30,73.00 L471.30,76.20 M470.40,73.00 L472.20,73.00 M470.40,76.20 L472.20,76.20" stroke="#1d5f9e" stroke-width="0.7" fill="none"/>
<path d="M476.60,72.30 L476.60,75.50 M475.70,72.30 L477.50,72.30 M475.70,75.50 L477.50,75.50" stroke="#1d5f9e" stroke-width="0.7" fill="none"/>
<path d="M481.90,71.30 L481.90,74.50 M481.00,71.30 L482.80,71.30 M481.00,74.50 L482.80,74.50" stroke="#1d5f9e" stroke-width="0.7" fill="none"/>
<path d="M486.20,70.20 L486.20,73.40 M485.30,70.20 L487.10,70.20 M485.30,73.40 L487.10,73.40" stroke="#1d5f9e" stroke-width="0.7" fill="none"/>
<path d="M491.40,69.60 L491.40,72.80 M490.50,69.60 L492.30,69.60 M490.50,72.80 L492.30,72.80" stroke="#1d5f9e" stroke-width="0.7" fill="none"/>
<path d="M496.70,68.10 L496.70,71.30 M495.80,68.10 L497.60,68.10 M495.80,71.30 L497.60,71.30" stroke="#1d5f9e" stroke-width="0.7" fill="none"/>
<path d="M502.70,66.00 L502.70,69.20 M501.80,66.00 L503.60,66.00 M501.80,69.20 L503.60,69.20" stroke="#1d5f9e" stroke-width="0.7" fill="none"/>
<path d="M453.40,91.40 L453.40,94.60 M452.50,91.40 L454.30,91.40 M452.50,94.60 L454.30,94.60" stroke="#22b03f" stroke-width="0.7" fill="none"/>
<path d="M458.70,81.90 L458.70,85.10 M457.80,81.90 L459.60,81.90 M457.80,85.10 L459.60,85.10" stroke="#22b03f" stroke-width="0.7" fill="none"/>
<path d="M464.60,77.60 L464.60,80.80 M463.70,77.60 L465.50,77.60 M463.70,80.80 L465.50,80.80" stroke="#22b03f" stroke-width="0.7" fill="none"/>
<path d="M471.30,75.10 L471.30,78.30 M470.40,75.10 L472.20,75.10 M470.40,78.30 L472.20,78.30" stroke="#22b03f" stroke-width="0.7" fill="none"/>
<path d="M476.60,73.80 L476.60,77.00 M475.70,73.80 L477.50,73.80 M475.70,77.00 L477.50,77.00" stroke="#22b03f" stroke-width="0.7" fill="none"/>
<path d="M481.90,73.00 L481.90,76.20 M481.00,73.00 L482.80,73.00 M481.00,76.20 L482.80,76.20" stroke="#22b03f" stroke-width="0.7" fill="none"/>
<path d="M486.20,71.70 L486.20,74.90 M485.30,71.70 L487.10,71.70 M485.30,74.90 L487.10,74.90" stroke="#22b03f" stroke-width="0.7" fill="none"/>
<path d="M491.40,70.90 L491.40,74.10 M490.50,70.90 L492.30,70.90 M490.50,74.10 L492.30,74.10" stroke="#22b03f" stroke-width="0.7" fill="none"/>
<path d="M496.70,69.60 L496.70,72.80 M495.80,69.60 L497.60,69.60 M495.80,72.80 L497.60,72.80" stroke="#22b03f" stroke-width="0.7" fill="none"/>
<path d="M502.70,68.70 L502.70,71.90 M501.80,68.70 L503.60,68.70 M501.80,71.90 L503.60,71.90" stroke="#22b03f" stroke-width="0.7" fill="none"/>
<polyline points="453.40,93.00 458.70,83.50 464.60,79.20 471.30,76.70 476.60,75.40 481.90,74.60 486.20,73.30 491.40,72.50 496.70,71.20 502.70,70.30" fill="none" stroke="#22b03f" stroke-width="1.4" stroke-linejoin="round" />
<polyline points="453.40,89.80 458.70,81.30 464.60,77.10 471.30,74.60 476.60,73.90 481.90,72.90 486.20,71.80 491.40,71.20 496.70,69.70 502.70,67.60" fill="none" stroke="#1d5f9e" stroke-width="1.4" stroke-linejoin="round" />
<polyline points="453.40,87.30 458.70,76.70 464.60,70.80 471.30,69.10 476.60,67.60 481.90,67.60 486.20,64.80 491.40,64.00 496.70,62.70 502.70,61.90" fill="none" stroke="#111" stroke-width="1.4" stroke-linejoin="round" />
<polyline points="453.40,98.70 457.60,96.20 462.90,93.60 467.10,93.00 471.30,94.00 475.60,89.80 476.50,87.50" fill="none" stroke="#cc1530" stroke-width="1.4" stroke-linejoin="round" />
<rect x="452.40" y="86.30" width="2.00" height="2.00" fill="#111"/>
<rect x="457.70" y="75.70" width="2.00" height="2.00" fill="#111"/>
<rect x="463.60" y="69.80" width="2.00" height="2.00" fill="#111"/>
<rect x="470.30" y="68.10" width="2.00" height="2.00" fill="#111"/>
<rect x="475.60" y="66.60" width="2.00" height="2.00" fill="#111"/>
<rect x="480.90" y="66.60" width="2.00" height="2.00" fill="#111"/>
<rect x="485.20" y="63.80" width="2.00" height="2.00" fill="#111"/>
<rect x="490.40" y="63.00" width="2.00" height="2.00" fill="#111"/>
<rect x="495.70" y="61.70" width="2.00" height="2.00" fill="#111"/>
<rect x="501.70" y="60.90" width="2.00" height="2.00" fill="#111"/>
<rect x="452.40" y="88.80" width="2.00" height="2.00" fill="#1d5f9e"/>
<rect x="457.70" y="80.30" width="2.00" height="2.00" fill="#1d5f9e"/>
<rect x="463.60" y="76.10" width="2.00" height="2.00" fill="#1d5f9e"/>
<rect x="470.30" y="73.60" width="2.00" height="2.00" fill="#1d5f9e"/>
<rect x="475.60" y="72.90" width="2.00" height="2.00" fill="#1d5f9e"/>
<rect x="480.90" y="71.90" width="2.00" height="2.00" fill="#1d5f9e"/>
<rect x="485.20" y="70.80" width="2.00" height="2.00" fill="#1d5f9e"/>
<rect x="490.40" y="70.20" width="2.00" height="2.00" fill="#1d5f9e"/>
<rect x="495.70" y="68.70" width="2.00" height="2.00" fill="#1d5f9e"/>
<rect x="501.70" y="66.60" width="2.00" height="2.00" fill="#1d5f9e"/>
<circle cx="453.40" cy="93.00" r="0.90" fill="#fff" stroke="#22b03f" stroke-width="0.8"/>
<circle cx="458.70" cy="83.50" r="0.90" fill="#fff" stroke="#22b03f" stroke-width="0.8"/>
<circle cx="464.60" cy="79.20" r="0.90" fill="#fff" stroke="#22b03f" stroke-width="0.8"/>
<circle cx="471.30" cy="76.70" r="0.90" fill="#fff" stroke="#22b03f" stroke-width="0.8"/>
<circle cx="476.60" cy="75.40" r="0.90" fill="#fff" stroke="#22b03f" stroke-width="0.8"/>
<circle cx="481.90" cy="74.60" r="0.90" fill="#fff" stroke="#22b03f" stroke-width="0.8"/>
<circle cx="486.20" cy="73.30" r="0.90" fill="#fff" stroke="#22b03f" stroke-width="0.8"/>
<circle cx="491.40" cy="72.50" r="0.90" fill="#fff" stroke="#22b03f" stroke-width="0.8"/>
<circle cx="496.70" cy="71.20" r="0.90" fill="#fff" stroke="#22b03f" stroke-width="0.8"/>
<circle cx="502.70" cy="70.30" r="0.90" fill="#fff" stroke="#22b03f" stroke-width="0.8"/>
<path d="M453.40,97.20 L453.40,100.20 M452.50,97.20 L454.30,97.20 M452.50,100.20 L454.30,100.20" stroke="#cc1530" stroke-width="0.7" fill="none"/>
<path d="M457.60,94.70 L457.60,97.70 M456.70,94.70 L458.50,94.70 M456.70,97.70 L458.50,97.70" stroke="#cc1530" stroke-width="0.7" fill="none"/>
<path d="M462.90,92.10 L462.90,95.10 M462.00,92.10 L463.80,92.10 M462.00,95.10 L463.80,95.10" stroke="#cc1530" stroke-width="0.7" fill="none"/>
<path d="M467.10,91.50 L467.10,94.50 M466.20,91.50 L468.00,91.50 M466.20,94.50 L468.00,94.50" stroke="#cc1530" stroke-width="0.7" fill="none"/>
<path d="M471.30,92.50 L471.30,95.50 M470.40,92.50 L472.20,92.50 M470.40,95.50 L472.20,95.50" stroke="#cc1530" stroke-width="0.7" fill="none"/>
<path d="M475.60,88.30 L475.60,91.30 M474.70,88.30 L476.50,88.30 M474.70,91.30 L476.50,91.30" stroke="#cc1530" stroke-width="0.7" fill="none"/>
<path d="M476.50,86.00 L476.50,89.00 M475.60,86.00 L477.40,86.00 M475.60,89.00 L477.40,89.00" stroke="#cc1530" stroke-width="0.7" fill="none"/>
<polygon points="459.00,76.15 459.25,76.75 459.90,76.81 459.41,77.23 459.56,77.87 459.00,77.53 458.44,77.87 458.59,77.23 458.10,76.81 458.75,76.75" fill="#444"/>
<polygon points="459.00,86.75 459.25,87.35 459.90,87.41 459.41,87.83 459.56,88.47 459.00,88.13 458.44,88.47 458.59,87.83 458.10,87.41 458.75,87.35" fill="#444"/>
<polygon points="464.90,71.95 465.15,72.55 465.80,72.61 465.31,73.03 465.46,73.67 464.90,73.33 464.34,73.67 464.49,73.03 464.00,72.61 464.65,72.55" fill="#444"/>
<polygon points="464.90,82.45 465.15,83.05 465.80,83.11 465.31,83.53 465.46,84.17 464.90,83.83 464.34,84.17 464.49,83.53 464.00,83.11 464.65,83.05" fill="#444"/>
<polygon points="471.60,69.45 471.85,70.05 472.50,70.11 472.01,70.53 472.16,71.17 471.60,70.83 471.04,71.17 471.19,70.53 470.70,70.11 471.35,70.05" fill="#444"/>
<polygon points="471.60,79.95 471.85,80.55 472.50,80.61 472.01,81.03 472.16,81.67 471.60,81.33 471.04,81.67 471.19,81.03 470.70,80.61 471.35,80.55" fill="#444"/>
<polygon points="476.90,68.75 477.15,69.35 477.80,69.41 477.31,69.83 477.46,70.47 476.90,70.13 476.34,70.47 476.49,69.83 476.00,69.41 476.65,69.35" fill="#444"/>
<polygon points="476.90,78.65 477.15,79.25 477.80,79.31 477.31,79.73 477.46,80.37 476.90,80.03 476.34,80.37 476.49,79.73 476.00,79.31 476.65,79.25" fill="#444"/>
<polygon points="482.20,67.75 482.45,68.35 483.10,68.41 482.61,68.83 482.76,69.47 482.20,69.13 481.64,69.47 481.79,68.83 481.30,68.41 481.95,68.35" fill="#444"/>
<polygon points="482.20,77.85 482.45,78.45 483.10,78.51 482.61,78.93 482.76,79.57 482.20,79.23 481.64,79.57 481.79,78.93 481.30,78.51 481.95,78.45" fill="#444"/>
<polygon points="486.50,66.65 486.75,67.25 487.40,67.31 486.91,67.73 487.06,68.37 486.50,68.03 485.94,68.37 486.09,67.73 485.60,67.31 486.25,67.25" fill="#444"/>
<polygon points="486.50,76.55 486.75,77.15 487.40,77.21 486.91,77.63 487.06,78.27 486.50,77.93 485.94,78.27 486.09,77.63 485.60,77.21 486.25,77.15" fill="#444"/>
<polygon points="491.70,66.05 491.95,66.65 492.60,66.71 492.11,67.13 492.26,67.77 491.70,67.43 491.14,67.77 491.29,67.13 490.80,66.71 491.45,66.65" fill="#444"/>
<polygon points="491.70,75.75 491.95,76.35 492.60,76.41 492.11,76.83 492.26,77.47 491.70,77.13 491.14,77.47 491.29,76.83 490.80,76.41 491.45,76.35" fill="#444"/>
<polygon points="497.00,64.55 497.25,65.15 497.90,65.21 497.41,65.63 497.56,66.27 497.00,65.93 496.44,66.27 496.59,65.63 496.10,65.21 496.75,65.15" fill="#444"/>
<polygon points="497.00,74.45 497.25,75.05 497.90,75.11 497.41,75.53 497.56,76.17 497.00,75.83 496.44,76.17 496.59,75.53 496.10,75.11 496.75,75.05" fill="#444"/>
<polygon points="503.00,62.45 503.25,63.05 503.90,63.11 503.41,63.53 503.56,64.17 503.00,63.83 502.44,64.17 502.59,63.53 502.10,63.11 502.75,63.05" fill="#444"/>
<polygon points="503.00,73.55 503.25,74.15 503.90,74.21 503.41,74.63 503.56,75.27 503.00,74.93 502.44,75.27 502.59,74.63 502.10,74.21 502.75,74.15" fill="#444"/>
<path d="M486,25 L493.5,25" stroke="#111" stroke-width="1.4"/>
<rect x="488.80" y="24.00" width="2.00" height="2.00" fill="#111"/>
<text x="495.80" y="27.70" font-size="6.6" text-anchor="start" font-weight="normal" font-style="normal" fill="#222" textLength="9.2" lengthAdjust="spacingAndGlyphs" >WT</text>
<path d="M486,33.1 L493.5,33.1" stroke="#1d5f9e" stroke-width="1.4"/>
<rect x="488.80" y="32.10" width="2.00" height="2.00" fill="#1d5f9e"/>
<text x="495.80" y="35.80" font-size="6.6" text-anchor="start" font-weight="normal" font-style="normal" fill="#222" textLength="11.5" lengthAdjust="spacingAndGlyphs" >QT3</text>
<text x="507.70" y="31.90" font-size="5.4" text-anchor="start" font-weight="normal" font-style="normal" fill="#222" textLength="7.6" lengthAdjust="spacingAndGlyphs" >+/+</text>
<path d="M486,42.3 L493.5,42.3" stroke="#22b03f" stroke-width="1.4"/>
<circle cx="489.80" cy="42.30" r="1.00" fill="#fff" stroke="#22b03f" stroke-width="0.8"/>
<text x="495.80" y="45.00" font-size="6.6" text-anchor="start" font-weight="normal" font-style="normal" fill="#222" textLength="11.5" lengthAdjust="spacingAndGlyphs" >QT3</text>
<text x="507.70" y="41.10" font-size="5.4" text-anchor="start" font-weight="normal" font-style="normal" fill="#222" textLength="7.6" lengthAdjust="spacingAndGlyphs" >+/–</text>
<path d="M486,50.5 L493.5,50.5" stroke="#cc1530" stroke-width="1.4"/>
<circle cx="489.80" cy="50.50" r="1.00" fill="#cc1530"/>
<text x="495.80" y="53.20" font-size="6.6" text-anchor="start" font-weight="normal" font-style="normal" fill="#222" textLength="7.8" lengthAdjust="spacingAndGlyphs" >QT</text>
<text x="11.80" y="165.60" font-size="10.5" text-anchor="start" font-weight="bold" font-style="normal" fill="#111" >C</text>
<text x="65.50" y="170.40" font-size="9.6" text-anchor="middle" font-weight="normal" font-style="normal" fill="#222" textLength="15.5" lengthAdjust="spacingAndGlyphs" >WT</text>
<text x="111.30" y="170.40" font-size="9.6" text-anchor="middle" font-weight="normal" font-style="normal" fill="#222" textLength="13.5" lengthAdjust="spacingAndGlyphs" >QT</text>
<defs>
<linearGradient id="photoBg" x1="0" y1="0" x2="1" y2="1">
<stop offset="0" stop-color="#eef1f4"/><stop offset="0.5" stop-color="#e8ecf0"/><stop offset="1" stop-color="#e3e8ed"/>
</linearGradient>
<filter id="soft" x="-10%" y="-10%" width="120%" height="120%"><feGaussianBlur stdDeviation="0.4"/></filter>
<filter id="soft2" x="-10%" y="-10%" width="120%" height="120%"><feGaussianBlur stdDeviation="1.2"/></filter>
<filter id="fur" x="0" y="0" width="100%" height="100%" color-interpolation-filters="sRGB">
<feTurbulence type="fractalNoise" baseFrequency="0.12 0.3" numOctaves="3" seed="31" result="n"/>
<feColorMatrix in="n" type="matrix" values="0 0 0 0 0  0 0 0 0 0  0 0 0 0 0  1.2 0 0 0 -0.5" result="a"/>
<feGaussianBlur in="a" stdDeviation="0.7" result="ab"/>
<feFlood flood-color="#3e281d" result="f"/>
<feComposite in="f" in2="ab" operator="in" result="blobs"/>
<feComposite in="blobs" in2="SourceGraphic" operator="over" result="comb"/>
<feComposite in="comb" in2="SourceAlpha" operator="in" result="c2"/>
<feGaussianBlur in="c2" stdDeviation="0.4"/>
</filter>
<radialGradient id="furG" cx="0.5" cy="0.45" r="0.62">
<stop offset="0" stop-color="#130b07"/><stop offset="0.72" stop-color="#1a0f0a"/><stop offset="1" stop-color="#2f1d14"/>
</radialGradient>
</defs>
<rect x="37.5" y="174" width="98.4" height="159.8" fill="url(#photoBg)"/>
<g filter="url(#soft2)" stroke="#eef2f4" stroke-width="2.2" fill="none" opacity="0.45"><path d="M95,262 C110,270 125,262 135,268"/><path d="M48,300 C70,292 95,305 120,298"/><path d="M100,312 C110,308 125,318 135,312"/><path d="M80,276 C90,290 100,300 104,318"/></g>
<g filter="url(#soft2)" stroke="#d6dee3" stroke-width="2" fill="none" opacity="0.45"><path d="M50,286 C60,282 72,290 80,286"/><path d="M90,322 C100,318 112,326 128,322"/><path d="M110,268 C112,278 118,288 124,292"/></g>
<rect x="37.8" y="174" width="7.8" height="148" fill="#f6eaea"/>
<rect x="43.1" y="174" width="2.7" height="148" fill="#f4826f"/>
<circle cx="40.9" cy="176.3" r="1.3" fill="#f0624f"/>
<path d="M41.5,181.2 L43.3,181.2" stroke="#ee8a84" stroke-width="0.7"/>
<circle cx="40.9" cy="186.2" r="1.3" fill="#f0624f"/>
<path d="M41.5,191.1 L43.3,191.1" stroke="#ee8a84" stroke-width="0.7"/>
<circle cx="40.9" cy="196.0" r="1.3" fill="#f0624f"/>
<path d="M41.5,200.9 L43.3,200.9" stroke="#ee8a84" stroke-width="0.7"/>
<circle cx="40.9" cy="205.9" r="1.3" fill="#f0624f"/>
<path d="M41.5,210.8 L43.3,210.8" stroke="#ee8a84" stroke-width="0.7"/>
<circle cx="40.9" cy="215.7" r="1.3" fill="#f0624f"/>
<path d="M41.5,220.6 L43.3,220.6" stroke="#ee8a84" stroke-width="0.7"/>
<circle cx="40.9" cy="225.6" r="1.3" fill="#f0624f"/>
<path d="M41.5,230.5 L43.3,230.5" stroke="#ee8a84" stroke-width="0.7"/>
<circle cx="40.9" cy="235.4" r="1.3" fill="#f0624f"/>
<path d="M41.5,240.3 L43.3,240.3" stroke="#ee8a84" stroke-width="0.7"/>
<circle cx="40.9" cy="245.2" r="1.3" fill="#f0624f"/>
<path d="M41.5,250.2 L43.3,250.2" stroke="#ee8a84" stroke-width="0.7"/>
<circle cx="40.9" cy="255.1" r="1.3" fill="#f0624f"/>
<path d="M41.5,260.0 L43.3,260.0" stroke="#ee8a84" stroke-width="0.7"/>
<circle cx="40.9" cy="264.9" r="1.3" fill="#f0624f"/>
<path d="M41.5,269.8 L43.3,269.8" stroke="#ee8a84" stroke-width="0.7"/>
<circle cx="40.9" cy="274.8" r="1.3" fill="#f0624f"/>
<path d="M41.5,279.7 L43.3,279.7" stroke="#ee8a84" stroke-width="0.7"/>
<circle cx="40.9" cy="284.6" r="1.3" fill="#f0624f"/>
<path d="M41.5,289.5 L43.3,289.5" stroke="#ee8a84" stroke-width="0.7"/>
<circle cx="40.9" cy="294.5" r="1.3" fill="#f0624f"/>
<path d="M41.5,299.4 L43.3,299.4" stroke="#ee8a84" stroke-width="0.7"/>
<circle cx="40.9" cy="304.4" r="1.3" fill="#f0624f"/>
<path d="M41.5,309.2 L43.3,309.2" stroke="#ee8a84" stroke-width="0.7"/>
<circle cx="40.9" cy="314.2" r="1.3" fill="#f0624f"/>
<path d="M41.5,319.1 L43.3,319.1" stroke="#ee8a84" stroke-width="0.7"/>
<rect x="37.8" y="321" width="3.2" height="5.5" fill="#fbfbfb"/>
<g filter="url(#soft)"><path d="M69.8,266 C69.4,285 68.5,305 67.0,332.5" stroke="#8a5640" stroke-width="2.4" fill="none" stroke-linecap="round"/><path d="M57.5,258.5 L54,266 L52,271" stroke="#c08a6c" stroke-width="2.8" fill="none" stroke-linecap="round"/><path d="M87.5,261 L94,266 L100.4,268.3" stroke="#c08a6c" stroke-width="2.8" fill="none" stroke-linecap="round"/><ellipse cx="58.6" cy="200.8" rx="2.4" ry="2.1" fill="#c9978a"/></g>
<path d="M71.4,184.3 C76.5,184 81,186.5 84,190 C86.5,193 88.5,197 90,202 C91.6,208 92.3,220 92.2,231.8 C92,240 91,248 90.2,253.9 C89.5,257 88.8,259 88,260 C84,262.5 77,265.5 71.4,267.7 C66,265 60,262 56.2,259.4 C55,256 54.4,253 54.3,251.2 C54.5,244 55,238 55.4,231.8 C56,222 56.8,214 57.6,209.7 C58.5,204 60.5,198 62.5,194 C64.5,189 67.5,185 71.4,184.3 Z" fill="url(#furG)" filter="url(#fur)"/>
<g filter="url(#soft)"><ellipse cx="64.2" cy="201.6" rx="3.4" ry="3.5" fill="#b48a74"/><ellipse cx="88.3" cy="199.2" rx="4.6" ry="3.2" fill="#b48a74" transform="rotate(15 88.3 199.2)"/><path d="M109.5,254 C110,262 109.6,270 110.6,278 C111.5,283 109.6,284 111.3,287 C113,288.5 115,287.5 112.8,290 L116,297" stroke="#84452f" stroke-width="1.8" fill="none" stroke-linecap="round"/><path d="M102,245 L96,242.5 L92,241.5 M95.5,246 L99.5,251.3" stroke="#b87a5e" stroke-width="2.3" fill="none" stroke-linecap="round"/><path d="M127,247 L131,245 L133,245.5" stroke="#b87a5e" stroke-width="2.3" fill="none" stroke-linecap="round"/><ellipse cx="104.2" cy="205.5" rx="1.4" ry="3.4" fill="#c07058" transform="rotate(-15 104.2 205.5)"/><ellipse cx="124.9" cy="203.9" rx="1.1" ry="2" fill="#b07060"/></g>
<path d="M113.5,199.4 C118.5,199.4 123,202.5 126,206.5 C128.3,210 129.5,215 129.8,222 C130.2,230 130,238 129.2,244 C128,250 124.5,253.5 119.5,254.8 C115,255.6 110.5,255.5 107,254.3 C103.5,252.8 101.4,249.5 100.8,245 C100.5,239 101.3,232 102.3,226 C103,220 104,214 105.5,209.5 C107.3,204 110,200.2 113.5,199.4 Z" fill="url(#furG)" filter="url(#fur)"/>
<g filter="url(#soft)"><circle cx="112.8" cy="215.2" r="4" fill="#3a2418"/><ellipse cx="112.8" cy="215.6" rx="3.1" ry="2.7" fill="#b88a66"/><ellipse cx="131" cy="212.8" rx="3.8" ry="2.4" fill="#9a7a6a" transform="rotate(15 131 212.8)"/></g>
<text x="167.80" y="165.80" font-size="10.5" text-anchor="start" font-weight="bold" font-style="normal" fill="#111" >D</text>
<text x="216.30" y="170.80" font-size="9.6" text-anchor="middle" font-weight="normal" font-style="normal" fill="#222" textLength="14.5" lengthAdjust="spacingAndGlyphs" >WT</text>
<text x="292.60" y="170.80" font-size="9.6" text-anchor="middle" font-weight="normal" font-style="normal" fill="#222" textLength="13.5" lengthAdjust="spacingAndGlyphs" >QT</text>
<text transform="translate(175.45,206.80) rotate(-90)" x="0" y="0" font-size="9.6" font-weight="normal" text-anchor="middle" dominant-baseline="central" fill="#2a2a2a" textLength="34" lengthAdjust="spacingAndGlyphs">4 weeks</text>
<text transform="translate(175.45,290.00) rotate(-90)" x="0" y="0" font-size="9.6" font-weight="normal" text-anchor="middle" dominant-baseline="central" fill="#2a2a2a" textLength="34" lengthAdjust="spacingAndGlyphs">7 weeks</text>
<defs><filter id="tM" x="0" y="0" width="100%" height="100%" color-interpolation-filters="sRGB"><feTurbulence type="fractalNoise" baseFrequency="0.28" numOctaves="3" seed="3" result="n"/><feColorMatrix in="n" type="matrix" values="0 0 0 0 0  0 0 0 0 0  0 0 0 0 0  1 0 0 0 0" result="a"/><feComponentTransfer in="a" result="m"><feFuncA type="discrete" tableValues="0 0 0 0 0.4 1 1 1"/></feComponentTransfer><feFlood flood-color="#5e3676" result="f"/><feComposite in="f" in2="m" operator="in" result="blobs"/><feComposite in="blobs" in2="SourceGraphic" operator="over" result="comb"/><feComposite in="comb" in2="SourceAlpha" operator="in"/></filter><filter id="tMd" x="0" y="0" width="100%" height="100%" color-interpolation-filters="sRGB"><feTurbulence type="fractalNoise" baseFrequency="0.3" numOctaves="3" seed="4" result="n"/><feColorMatrix in="n" type="matrix" values="0 0 0 0 0  0 0 0 0 0  0 0 0 0 0  1 0 0 0 0" result="a"/><feComponentTransfer in="a" result="m"><feFuncA type="discrete" tableValues="0 0 0 0 0.45 1 1 1"/></feComponentTransfer><feFlood flood-color="#5a3372" result="f"/><feComposite in="f" in2="m" operator="in" result="blobs"/><feComposite in="blobs" in2="SourceGraphic" operator="over" result="comb"/><feComposite in="comb" in2="SourceAlpha" operator="in"/></filter><filter id="tM2" x="0" y="0" width="100%" height="100%" color-interpolation-filters="sRGB"><feTurbulence type="fractalNoise" baseFrequency="0.42" numOctaves="3" seed="5" result="n"/><feColorMatrix in="n" type="matrix" values="0 0 0 0 0  0 0 0 0 0  0 0 0 0 0  1 0 0 0 0" result="a"/><feComponentTransfer in="a" result="m"><feFuncA type="discrete" tableValues="0 0 0 0.12 0.8 1 1 1"/></feComponentTransfer><feFlood flood-color="#6a4080" result="f"/><feComposite in="f" in2="m" operator="in" result="blobs"/><feComposite in="blobs" in2="SourceGraphic" operator="over" result="comb"/><feComposite in="comb" in2="SourceAlpha" operator="in"/></filter><filter id="tM3" x="0" y="0" width="100%" height="100%" color-interpolation-filters="sRGB"><feTurbulence type="fractalNoise" baseFrequency="0.5" numOctaves="3" seed="6" result="n"/><feColorMatrix in="n" type="matrix" values="0 0 0 0 0  0 0 0 0 0  0 0 0 0 0  1 0 0 0 0" result="a"/><feComponentTransfer in="a" result="m"><feFuncA type="discrete" tableValues="0 0 0 0.3 0.95 1 1 1"/></feComponentTransfer><feFlood flood-color="#6e4a86" result="f"/><feComposite in="f" in2="m" operator="in" result="blobs"/><feComposite in="blobs" in2="SourceGraphic" operator="over" result="comb"/><feComposite in="comb" in2="SourceAlpha" operator="in"/></filter><filter id="tS" x="0" y="0" width="100%" height="100%" color-interpolation-filters="sRGB"><feTurbulence type="fractalNoise" baseFrequency="0.3" numOctaves="3" seed="7" result="n"/><feColorMatrix in="n" type="matrix" values="0 0 0 0 0  0 0 0 0 0  0 0 0 0 0  1 0 0 0 0" result="a"/><feComponentTransfer in="a" result="m"><feFuncA type="discrete" tableValues="0 0 0 0 0 0.3 0.8 1"/></feComponentTransfer><feFlood flood-color="#9a6aa8" result="f"/><feComposite in="f" in2="m" operator="in" result="blobs"/><feComposite in="blobs" in2="SourceGraphic" operator="over" result="comb"/><feComposite in="comb" in2="SourceAlpha" operator="in"/></filter><filter id="tP" x="0" y="0" width="100%" height="100%" color-interpolation-filters="sRGB"><feTurbulence type="fractalNoise" baseFrequency="0.22" numOctaves="3" seed="9" result="n"/><feColorMatrix in="n" type="matrix" values="0 0 0 0 0  0 0 0 0 0  0 0 0 0 0  1 0 0 0 0" result="a"/><feComponentTransfer in="a" result="m0"><feFuncA type="discrete" tableValues="0 0 0 0 0 0.4 0.8 1"/></feComponentTransfer><feGaussianBlur in="m0" stdDeviation="0.3" result="m"/><feFlood flood-color="#f0a6cb" result="f"/><feComposite in="f" in2="m" operator="in" result="blobs"/><feComposite in="blobs" in2="SourceGraphic" operator="over" result="comb"/><feComposite in="comb" in2="SourceAlpha" operator="in"/></filter></defs>
<rect x="182.6" y="173.5" width="146.3" height="161.2" fill="#8f9092"/>
<rect x="183.6" y="174.5" width="68.5" height="77.3" fill="#fff"/>
<rect x="257.8" y="174.5" width="70.1" height="77.3" fill="#fff"/>
<rect x="183.6" y="257.3" width="68.5" height="76.4" fill="#fff"/>
<rect x="257.8" y="257.3" width="70.1" height="76.4" fill="#fff"/>
<defs><clipPath id="cWT4"><path d="M191,202 C196,194 203,190 209.7,188.9 C215,187.5 220,186.5 223.5,186.9 C231,187.5 238,191 241.6,196.5 C245,202 247,208 247.5,214.5 C248,222 248,228 247.8,232.6 C247,237 244,240 241.6,242.3 L241.5,244.3 L192.4,244.3 C191,238 190.3,233 190.3,228.4 C190.3,218 190.5,208 191,202 Z"/></clipPath></defs>
<path d="M191,202 C196,194 203,190 209.7,188.9 C215,187.5 220,186.5 223.5,186.9 C231,187.5 238,191 241.6,196.5 C245,202 247,208 247.5,214.5 C248,222 248,228 247.8,232.6 C247,237 244,240 241.6,242.3 L241.5,244.3 L192.4,244.3 C191,238 190.3,233 190.3,228.4 C190.3,218 190.5,208 191,202 Z" fill="#e2689f" filter="url(#tP)"/>
<g clip-path="url(#cWT4)">
<path d="M185,186 L252,186 L252,216 C246,214 240,212 237.7,212.3 C230,209.5 224,207.5 222.9,207.4 C212,205.5 200,204.5 185,204 Z" fill="#e98ab9"/>
<ellipse cx="203.0" cy="196.8" rx="2.6" ry="3.8" fill="#6e3a80"/>
<ellipse cx="203.20" cy="196.80" rx="1.25" ry="2.09" fill="#f0c8dc"/>
<ellipse cx="209.3" cy="197.2" rx="2.8" ry="3.6" fill="#6e3a80"/>
<ellipse cx="209.50" cy="197.20" rx="1.34" ry="1.98" fill="#f0c8dc"/>
<ellipse cx="215.6" cy="197.6" rx="2.8" ry="3.7" fill="#6e3a80"/>
<ellipse cx="215.80" cy="197.60" rx="1.34" ry="2.04" fill="#f0c8dc"/>
<ellipse cx="222.6" cy="198.6" rx="3.2" ry="4.0" fill="#6e3a80"/>
<ellipse cx="222.80" cy="198.60" rx="1.54" ry="2.20" fill="#f0c8dc"/>
<ellipse cx="229.6" cy="200.4" rx="2.8" ry="3.8" fill="#6e3a80"/>
<ellipse cx="229.80" cy="200.40" rx="1.34" ry="2.09" fill="#f0c8dc"/>
<ellipse cx="235.6" cy="203.2" rx="2.2" ry="3.3" fill="#6e3a80"/>
<ellipse cx="235.80" cy="203.20" rx="1.06" ry="1.81" fill="#f0c8dc"/>
<ellipse cx="239.8" cy="205.6" rx="1.7" ry="2.6" fill="#6e3a80"/>
<ellipse cx="240.00" cy="205.60" rx="0.82" ry="1.43" fill="#f0c8dc"/>
<path d="M185,204 C200,204.5 212,205.5 222.9,207.4 C228,208.5 234,210.5 237.7,212.3 C241,213.6 244,215 252,217 L252,236 C249,234.5 247.5,233.8 246.3,233.2 C245.2,231.5 244.5,230.5 243.8,229.5 C242,226.5 240,225 237.7,223.4 C234,221 230,219.5 226.6,218.5 C221,216.5 215,215.3 210.6,214.2 C203,212.5 196,211 185,210.5 Z" fill="#ecdaeb" filter="url(#tS)"/>
<path d="M185,210.5 C196,211 203,212.5 210.6,214.2 C215,215.3 221,216.5 226.6,218.5 C230,219.5 234,221 237.7,223.4 C240,225 242,226.5 243.8,229.5 C244.5,230.5 245.2,231.5 246.3,233.2 L252,236 L252,246 L185,246 Z" fill="#d9a2cc" filter="url(#tS)"/>
<path d="M197,223 C204,219.5 214,219 224,221.5 C232,224 238,228.5 241.5,234 L241,244.5 L197,244.5 C196,237 196,230 197,223 Z" fill="#cf97c6" filter="url(#tM)"/>
<path d="M201,221 L197.5,240 M207,220 L203.5,243 M236,228 L233,244" stroke="#e283b5" stroke-width="1.1" fill="none"/>
<path d="M185,205 L193.4,205 L193.4,246 L185,246 Z" fill="#e2689f" opacity="0.9"/>
<path d="M244,228 L252,228 L252,246 L242,246 Z" fill="#e5769f" opacity="0.85"/>
</g>
<path d="M227.5,242.4 L250.6,242.4" stroke="#8a8a8a" stroke-width="0.7"/>
<defs><clipPath id="cQT4"><path d="M261.7,193.6 C275,191 288,191 295.8,192.2 C300,193 302,195 304.4,197.9 C312,200 319,202 324.3,204.3 C326,210 326,215 325.7,220 C322,224 318,227 314.3,229.9 C312,235 311,240 310,244.1 L266,244.1 C264,237 262.5,231 262.4,225.6 C262,215 261.5,203 261.7,193.6 Z"/></clipPath></defs>
<path d="M261.7,193.6 C275,191 288,191 295.8,192.2 C300,193 302,195 304.4,197.9 C312,200 319,202 324.3,204.3 C326,210 326,215 325.7,220 C322,224 318,227 314.3,229.9 C312,235 311,240 310,244.1 L266,244.1 C264,237 262.5,231 262.4,225.6 C262,215 261.5,203 261.7,193.6 Z" fill="#e98cbb" filter="url(#tP)"/>
<g clip-path="url(#cQT4)">
<path d="M297,196 C305,199 315,201 327,204 L327,222 C320,226 315,229 312,232 C306,224 300,214 297,206 Z" fill="#ebd5e7" filter="url(#tS)"/>
<path d="M262,197 C275,198 290,201 304,206 L306,212 C290,207 275,205 262,205 Z" fill="#eac6dd"/>
<path d="M262,190 C278,189 292,190 300,193 C304,195 305,198 306,200 C292,197 276,196 262,197 Z" fill="#e67aae"/>
<ellipse cx="270" cy="198.5" rx="2.2" ry="1.4" fill="#a8669e"/>
<ellipse cx="276" cy="199" rx="2.5" ry="1.5" fill="#a8669e"/>
<ellipse cx="283" cy="200" rx="2.5" ry="1.6" fill="#a8669e"/>
<ellipse cx="290" cy="201" rx="2.6" ry="1.8" fill="#a8669e"/>
<ellipse cx="297" cy="203" rx="2.3" ry="1.8" fill="#a8669e"/>
<path d="M270,212 C282,210 295,212 305,216 C308,225 309,235 309,244.2 L270,244.2 Z" fill="#f0d6e8" filter="url(#tM2)"/>
</g>
<text x="312.80" y="240.30" font-size="5.6" text-anchor="middle" font-weight="normal" font-style="normal" fill="#222" textLength="18" lengthAdjust="spacingAndGlyphs" >500 µM</text>
<path d="M304,241.3 L322,241.3" stroke="#333" stroke-width="0.5"/>
<defs><clipPath id="cWT7"><path d="M188.4,331.8 L187.7,304.8 C188,290 191,280 196.2,272 C203,265 210,261 217.6,260.7 C225,260.5 231,262 236,265 C240,267 243,269 244.6,270.6 C244,280 243,290 241.7,296.3 C238,310 233,322 229,331.8 Z"/></clipPath></defs>
<path d="M234,263 C241,264 247,267 249.5,272 C250.5,280 249,292 245,301 L240,298 Z" fill="#f2cde0"/>
<path d="M188.4,331.8 L187.7,304.8 C188,290 191,280 196.2,272 C203,265 210,261 217.6,260.7 C225,260.5 231,262 236,265 C240,267 243,269 244.6,270.6 C244,280 243,290 241.7,296.3 C238,310 233,322 229,331.8 Z" fill="#e2679f" filter="url(#tP)"/>
<g clip-path="url(#cWT7)">
<path d="M192.5,282 C197,272 206,265 217.6,264 C227,264 235,267 240.5,272 C240.8,280 240.5,288 240,294 C232,290.5 222,289 214,290 C205,291.5 197,295.5 191.5,299.5 Z" fill="#efd0e2" filter="url(#tMd)"/>
<path d="M191.5,299.5 C197,295.5 205,291.5 214,290 C222,289 232,290.5 240,294 L239.5,301 C232,297.5 222,296 214,297 C205,298.5 197,302.5 191.5,306.5 Z" fill="#dcc6e0" filter="url(#tS)"/>
<path d="M191.5,306.5 C197,302.5 205,298.5 214,297 C222,296 232,297.5 239.5,301 C238,312 234,322 231,332 L192,332 Z" fill="#ecc8df" filter="url(#tMd)"/>
</g>
<path d="M233.2,327.1 L248.9,327.1" stroke="#222" stroke-width="1.7"/>
<defs><clipPath id="cQT7"><path d="M266.7,330.4 L266.7,277 L284.4,261.4 C288,260.5 291,260.4 293,260.7 C297,262 301,265 304.4,268.5 C309,269 314,269.5 317.2,270.6 C321,274 324,279 326.4,283.4 C326,287 325,290 324.3,292 C321,296 318,300 315.7,304 C314.5,307 313.5,309.5 312.9,311.2 C309,311.5 305,311 301.5,310.5 L301.5,302.7 C300,302.5 298.5,302.2 297.3,302 C294,304 292,306 290.9,309 L290.9,330.4 Z"/></clipPath></defs>
<path d="M266.7,330.4 L266.7,277 L284.4,261.4 C288,260.5 291,260.4 293,260.7 C297,262 301,265 304.4,268.5 C309,269 314,269.5 317.2,270.6 C321,274 324,279 326.4,283.4 C326,287 325,290 324.3,292 C321,296 318,300 315.7,304 C314.5,307 313.5,309.5 312.9,311.2 C309,311.5 305,311 301.5,310.5 L301.5,302.7 C300,302.5 298.5,302.2 297.3,302 C294,304 292,306 290.9,309 L290.9,330.4 Z" fill="#e4689f"/>
<g clip-path="url(#cQT7)">
<path d="M270.5,330.5 L270.5,279 L285.5,266 C292,265 298,267 302,271 C310,272 318,275 322,283 C321,290 315,296 307,298 C300,296 293,300 288.5,306 L287.5,330.5 Z" fill="#e2b4d4" filter="url(#tM3)"/>
<path d="M286,262 C292,261 298,263 303,268 C298,271 292,270 286,268 Z" fill="#efc6dc"/>
<path d="M305,296 C312,294 318,292 323,290 C320,297 316,302 313,309 C309,309 305,306 305,296 Z" fill="#ecb6d2"/>
</g>
<circle cx="284.7" cy="304.6" r="1.5" fill="#fff"/><circle cx="301.2" cy="283.3" r="1" fill="#fff"/>
<text x="310.00" y="325.20" font-size="5.6" text-anchor="middle" font-weight="normal" font-style="normal" fill="#222" textLength="18" lengthAdjust="spacingAndGlyphs" >500 µM</text>
<path d="M301,326.8 L319.3,326.8" stroke="#111" stroke-width="0.9"/>
<text x="354.20" y="165.80" font-size="10.5" text-anchor="start" font-weight="bold" font-style="normal" fill="#111" >E</text>
<text x="388.20" y="171.30" font-size="9.3" text-anchor="middle" font-weight="normal" font-style="normal" fill="#222" textLength="14.8" lengthAdjust="spacingAndGlyphs" >WT</text>
<text x="422.50" y="171.30" font-size="9.3" text-anchor="start" font-weight="normal" font-style="normal" fill="#222" textLength="19.2" lengthAdjust="spacingAndGlyphs" >QT3</text>
<text x="442.20" y="166.80" font-size="6.3" text-anchor="start" font-weight="normal" font-style="normal" fill="#222" textLength="9.8" lengthAdjust="spacingAndGlyphs" >+/–</text>
<text x="481.00" y="171.30" font-size="9.3" text-anchor="middle" font-weight="normal" font-style="normal" fill="#222" textLength="12.8" lengthAdjust="spacingAndGlyphs" >QT</text>
<rect x="366.0" y="175.0" width="38.8" height="40.3" fill="#4b5152"/>
<rect x="366.0" y="217.8" width="38.8" height="62.0" fill="#4b5152"/>
<rect x="366.0" y="283.4" width="38.8" height="55.3" fill="#4b5152"/>
<rect x="411.2" y="175.0" width="46.6" height="40.3" fill="#3f4546"/>
<rect x="411.2" y="217.8" width="46.6" height="62.0" fill="#3f4546"/>
<rect x="411.2" y="283.4" width="46.6" height="55.3" fill="#3f4546"/>
<rect x="463.5" y="175.0" width="36.7" height="40.3" fill="#80888c"/>
<rect x="463.5" y="217.8" width="36.7" height="62.0" fill="#80888c"/>
<rect x="463.5" y="283.4" width="36.7" height="55.3" fill="#80888c"/>
<defs><filter id="ctb" x="-5%" y="-5%" width="110%" height="110%"><feGaussianBlur stdDeviation="0.35"/></filter><filter id="ctb2" x="-20%" y="-20%" width="140%" height="140%"><feGaussianBlur stdDeviation="1.4"/></filter><filter id="tC1" x="0" y="0" width="100%" height="100%" color-interpolation-filters="sRGB"><feTurbulence type="fractalNoise" baseFrequency="0.36" numOctaves="3" seed="21" result="n"/><feColorMatrix in="n" type="matrix" values="0 0 0 0 0  0 0 0 0 0  0 0 0 0 0  1 0 0 0 0" result="a"/><feComponentTransfer in="a" result="m0"><feFuncA type="discrete" tableValues="0 0 0 0 0.4 0.9 1 1"/></feComponentTransfer><feGaussianBlur in="m0" stdDeviation="0.45" result="m"/><feFlood flood-color="#a9afaf" result="f"/><feComposite in="f" in2="m" operator="in" result="blobs"/><feComposite in="blobs" in2="SourceGraphic" operator="over" result="comb"/><feComposite in="comb" in2="SourceAlpha" operator="in"/></filter><filter id="tC2" x="0" y="0" width="100%" height="100%" color-interpolation-filters="sRGB"><feTurbulence type="fractalNoise" baseFrequency="0.26" numOctaves="3" seed="22" result="n"/><feColorMatrix in="n" type="matrix" values="0 0 0 0 0  0 0 0 0 0  0 0 0 0 0  1 0 0 0 0" result="a"/><feComponentTransfer in="a" result="m0"><feFuncA type="discrete" tableValues="0 0 0 0 0.6 1 1 1"/></feComponentTransfer><feGaussianBlur in="m0" stdDeviation="0.45" result="m"/><feFlood flood-color="#c9cfcf" result="f"/><feComposite in="f" in2="m" operator="in" result="blobs"/><feComposite in="blobs" in2="SourceGraphic" operator="over" result="comb"/><feComposite in="comb" in2="SourceAlpha" operator="in"/></filter><filter id="tC3" x="0" y="0" width="100%" height="100%" color-interpolation-filters="sRGB"><feTurbulence type="fractalNoise" baseFrequency="0.22" numOctaves="3" seed="23" result="n"/><feColorMatrix in="n" type="matrix" values="0 0 0 0 0  0 0 0 0 0  0 0 0 0 0  1 0 0 0 0" result="a"/><feComponentTransfer in="a" result="m0"><feFuncA type="discrete" tableValues="0 0 0 0 0 0.7 1 1"/></feComponentTransfer><feGaussianBlur in="m0" stdDeviation="0.5" result="m"/><feFlood flood-color="#454b4c" result="f"/><feComposite in="f" in2="m" operator="in" result="blobs"/><feComposite in="blobs" in2="SourceGraphic" operator="over" result="comb"/><feComposite in="comb" in2="SourceAlpha" operator="in"/></filter><filter id="tC4" x="0" y="0" width="100%" height="100%" color-interpolation-filters="sRGB"><feTurbulence type="fractalNoise" baseFrequency="0.32" numOctaves="3" seed="24" result="n"/><feColorMatrix in="n" type="matrix" values="0 0 0 0 0  0 0 0 0 0  0 0 0 0 0  1 0 0 0 0" result="a"/><feComponentTransfer in="a" result="m0"><feFuncA type="discrete" tableValues="0 0 0 0 0 0.5 1 1"/></feComponentTransfer><feGaussianBlur in="m0" stdDeviation="0.45" result="m"/><feFlood flood-color="#b0b6b6" result="f"/><feComposite in="f" in2="m" operator="in" result="blobs"/><feComposite in="blobs" in2="SourceGraphic" operator="over" result="comb"/><feComposite in="comb" in2="SourceAlpha" operator="in"/></filter></defs>
<g filter="url(#ctb)"><path d="M367.8,203.2 C369.5,200.5 371.5,197.5 373.5,196 C377,193.5 380,191.5 383.2,191.2 C386.5,191.5 389,193 391,193.2 C394,193 396.5,193.8 398,195 L403.6,200.8 C401.5,205 398.5,209 394.7,211.2 C390,212.6 386,212.6 382,212.2 C377,211.2 372,208 367.8,203.2 Z" fill="#5f6666" filter="url(#tC1)"/><path d="M367.8,203.2 C369.5,200.5 371.5,197.5 373.5,196 C377,193.5 380,191.5 383.2,191.2 C386.5,191.5 389,193 391,193.2 C394,193 396.5,193.8 398,195 L403.6,200.8 C401.5,205 398.5,209 394.7,211.2 C390,212.6 386,212.6 382,212.2 C377,211.2 372,208 367.8,203.2 Z" fill="none" stroke="#e6e9ea" stroke-width="1"/><path d="M416.8,193.2 C419,190.5 425,188 433.2,187 C440,187.3 446,188.3 448.5,189.3 C452,190.5 454,192.5 454.3,195 C452,201 446,208 440,212 C437,213.5 433,213.7 430,212.4 C425,208 420,201 416.8,193.2 Z" fill="#3f4546" stroke="#e6e9ea" stroke-width="1.5"/><path d="M433.3,188.5 L433,198.5 M420,198.5 C427,201 440,201 450,196.5 M428.5,201 C429,205 431,209 433.5,211.5 M440,200.5 C439.5,205 438,209 435.5,211.5" stroke="#d2d6d6" stroke-width="0.9" fill="none"/><path d="M421,194 L423,196 M446,192 L447,195" stroke="#c0c5c5" stroke-width="0.7" fill="none"/><ellipse cx="480.4" cy="195.8" rx="10.4" ry="9.8" fill="none" stroke="#e6e9ea" stroke-width="1.4" transform="rotate(-10 480.4 195.8)"/><path d="M464,181 L467,179 M497,178 L498,182" stroke="#c9cdcd" stroke-width="0.8"/></g>
<g><path filter="url(#ctb2)" d="M371,241 C373,248 377,256 380,264 C381.5,270 381.8,276 382,279.8 L395,279.8 C395,272 395.5,262 398,250 C399,246 399.5,243 399,241 Z" fill="#cdd1d1"/><path d="M367.9,223.7 C368.5,221 370.5,219.5 372.8,219.4 L397.5,219.9 C400.5,221 401.8,224 401.8,228 C401.5,234 400,239 398.6,242 C396,244 392,245 388,246 C384,245 378,244 372,243 C369.5,240 368.3,236 368.5,232 Z" fill="#a9afaf" filter="url(#tC3)"/><path d="M371,233 C378,234 383,238 386,243 L388.5,244 C391,238 395,234 400,233 L399,246 L393,252 C390,256 387,258 384,256 L378,250 L372,244 Z" fill="#9ea4a4" filter="url(#tC3)"/><g filter="url(#ctb)"><path d="M368.5,224 C369,221 371,219.8 373,219.6 L397.5,220 C400.3,221 401.5,224 401.5,228 C401.3,234 400,239 398.6,242" stroke="#dfe2e2" stroke-width="1.1" fill="none"/><path d="M368.5,224 C368.3,230 368.5,236 370,240" stroke="#dfe2e2" stroke-width="1.1" fill="none"/><path d="M372,233 C379,233 384,238 387.5,244 C391,238 395,234 400.5,233" stroke="#e8ebeb" stroke-width="1.6" fill="none"/><circle cx="368.5" cy="240" r="1.8" fill="#2c3030"/></g></g>
<g filter="url(#ctb)"><path d="M415,233.4 C414.5,229 416.5,226 419.8,224.8 C425,222.5 430,222 434.9,222 C440,222.8 446,224.5 448.9,226.9 C451.5,229 452.6,232 452.6,235.5 C452.6,239 452.3,243 452,246.3 C446,243 438,242 432,243 C426,241 420,239.5 415,233.4 Z" fill="#555b5c" filter="url(#tC2)"/><path d="M432,243 C440,244 446,246 451,250 L449,262 C444,258 438,254 433,252 Z" fill="#454b4c" filter="url(#tC4)"/><path d="M424.1,240.9 C428,246 431,252 432.5,262 C433.3,268 433.8,274 433.8,279.7" stroke="#d9dddd" stroke-width="1.5" fill="none"/><path d="M452,246.3 C450,256 448.5,266 447.8,279.7" stroke="#d9dddd" stroke-width="1.5" fill="none"/><path d="M432,250 L437,247 M440,252 L444,250 M436,256 L439,254" stroke="#aab0b0" stroke-width="0.6"/><ellipse cx="452" cy="226.5" rx="2.6" ry="4.5" fill="#b4baba" transform="rotate(-25 452 226.5)"/><path d="M413,223.5 L416.5,221" stroke="#ccd" stroke-width="0.8"/></g>
<path filter="url(#ctb)" d="M479.5,279.6 C478,266 474,252 468.8,237.7 C470.5,232 473,227 476.3,224.2 C478,222 479,221.6 479.5,221.5 M479.8,221.8 C484,222.5 488,224.5 490.3,226.9 C492,230 493.5,233 494.6,235.5 C496,238 497.5,239.5 498.3,240.9 M496.7,245.2 C495,254 493.5,266 493,279.6" stroke="#e0e3e4" stroke-width="1" fill="none"/><path d="M481,223 L482,230 M486,225 L485.5,231 M476,232 C480,230 486,230 491,232" stroke="#c3c8ca" stroke-width="0.6" fill="none"/><path d="M497,239 C499,240 499.5,243 497.5,245.5" stroke="#c9cdcf" stroke-width="1.2" fill="none"/>
<g filter="url(#ctb)"><path d="M374.5,304 C374.8,297 375.5,291 377.4,287.7 C380,286.4 383,286.2 385,286.3 C390,288 394,290.5 396.6,293.5 C399.5,297 401.2,301 401.9,304 C402,306 401.8,307.5 401.4,308.8 C395,306 388,304.5 381,304 Z" fill="#9aa1a1" stroke="#d7dbdb" stroke-width="0.8"/><circle cx="387.7" cy="294.6" r="0.60" fill="#4b5152"/><circle cx="396.2" cy="289.1" r="0.85" fill="#4b5152"/><circle cx="396.9" cy="290.2" r="0.89" fill="#4b5152"/><circle cx="390.9" cy="289.6" r="0.77" fill="#4b5152"/><circle cx="392.8" cy="295.8" r="1.01" fill="#4b5152"/><circle cx="381.3" cy="292.6" r="0.58" fill="#4b5152"/><circle cx="388.6" cy="302.9" r="0.91" fill="#4b5152"/><circle cx="394.3" cy="294.8" r="1.02" fill="#4b5152"/><circle cx="380.1" cy="293.4" r="0.97" fill="#4b5152"/><circle cx="393.2" cy="295.3" r="0.56" fill="#4b5152"/><circle cx="383.6" cy="292.1" r="0.70" fill="#4b5152"/><circle cx="395.0" cy="292.0" r="1.12" fill="#4b5152"/><circle cx="396.5" cy="289.8" r="0.77" fill="#4b5152"/><circle cx="388.3" cy="289.4" r="0.80" fill="#4b5152"/><circle cx="397.0" cy="290.7" r="0.92" fill="#4b5152"/><circle cx="380.5" cy="297.7" r="1.13" fill="#4b5152"/><circle cx="382.3" cy="289.1" r="0.56" fill="#4b5152"/><circle cx="389.3" cy="289.3" r="0.56" fill="#4b5152"/><circle cx="388.4" cy="302.8" r="0.79" fill="#4b5152"/><circle cx="386.4" cy="298.6" r="0.57" fill="#4b5152"/><circle cx="390.2" cy="291.6" r="0.93" fill="#4b5152"/><circle cx="398.1" cy="289.8" r="0.89" fill="#4b5152"/><circle cx="390.7" cy="291.2" r="0.69" fill="#4b5152"/><circle cx="398.9" cy="304.0" r="0.58" fill="#4b5152"/><circle cx="392.8" cy="303.3" r="0.67" fill="#4b5152"/><circle cx="390.8" cy="289.6" r="0.76" fill="#4b5152"/><circle cx="392.2" cy="297.9" r="1.04" fill="#4b5152"/><circle cx="379.8" cy="294.2" r="1.10" fill="#4b5152"/><path d="M376.4,305 C377,315 378.5,325 381.2,338.6 L398.5,338.6 C399,328 400,318 400.5,309.8 C393,307 385,305.5 376.4,305 Z" fill="#575e5e" filter="url(#tC1)"/><path d="M376.4,305 C377,315 378.5,325 381.2,338.6 M400.5,309.8 C400,318 399,328 398.5,338.6 M375,304 C385,304 394,306 401.4,309" stroke="#cdd1d1" stroke-width="1" fill="none"/><path d="M367,287 L371,284" stroke="#ccd0d0" stroke-width="1"/></g>
<g filter="url(#ctb)"><path d="M415.7,305 C415,298 418,291 423.4,287.7 C428,286 433,285.8 436.8,286.7 C441,288 445,291 447.4,295.4 C449,299 449.5,303 449.3,306.9 C448,312 445,318 442,324 C441,329 440.2,333 439.7,337.7 L426.3,337.7 C425,330 423,322 420,315 C418,311 416,308 415.7,305 Z" fill="#3f4546" stroke="#d5d9d9" stroke-width="1.5"/><path d="M417.5,303 C418,296 421,291 425,289 C430,287.5 436,287.5 440,289.5 C444,292 447,296 447.5,302 C444,306 441,310 438,311 C432,309 426,309 421,310 Z" fill="#434949" filter="url(#tC4)"/><path d="M421,310 C426,314 433,318 437,322 L438,312 Z" fill="#3f4546" filter="url(#tC4)"/><path d="M420,296 C425,292 432,292 436,296 M433,288 L434,297 M440,292 C443,296 444,300 443,304 M424,300 L427,306 M429,304 L432,301" stroke="#b9bfbf" stroke-width="0.9" fill="none"/><ellipse cx="420" cy="300" rx="2" ry="3" fill="none" stroke="#c2c7c7" stroke-width="0.8"/><ellipse cx="431" cy="290.5" rx="4" ry="2.3" fill="#8f9696"/></g>
<path filter="url(#ctb)" d="M476.3,338 C474,328 470,316 466.7,305 C467,301 468,298 469.5,295.4 C475,294.5 480,294 484.9,293.5 C488,293 492,293.5 496.5,295.4 C496,298 494.5,301 492.6,303 C490,314 487.5,326 485.9,338" stroke="#e0e3e4" stroke-width="1" fill="none"/><path d="M466,303 L469,308 M486,294 C490,292 494,292 496,295 M488,298 L490,300" stroke="#c9cdcf" stroke-width="0.8" fill="none"/>
<text x="12.20" y="368.20" font-size="10.5" text-anchor="start" font-weight="bold" font-style="normal" fill="#111" >F</text>
<text x="145.50" y="372.20" font-size="9.5" text-anchor="middle" font-weight="normal" font-style="normal" fill="#222" textLength="28.5" lengthAdjust="spacingAndGlyphs" >B-cells</text>
<path d="M41.50,388.00 L41.50,483.50 L125.00,483.50" stroke="#333" stroke-width="1.15" fill="none"/><path d="M38.30,483.50 L41.50,483.50" stroke="#333" stroke-width="1"/><text x="35.60" y="486.50" font-size="9.0" text-anchor="end" font-weight="normal" font-style="normal" fill="#222" textLength="4.40" lengthAdjust="spacingAndGlyphs" >0</text><path d="M38.30,451.67 L41.50,451.67" stroke="#333" stroke-width="1"/><text x="35.60" y="454.67" font-size="9.0" text-anchor="end" font-weight="normal" font-style="normal" fill="#222" textLength="8.80" lengthAdjust="spacingAndGlyphs" >20</text><path d="M38.30,419.83 L41.50,419.83" stroke="#333" stroke-width="1"/><text x="35.60" y="422.83" font-size="9.0" text-anchor="end" font-weight="normal" font-style="normal" fill="#222" textLength="8.80" lengthAdjust="spacingAndGlyphs" >40</text><path d="M38.30,388.00 L41.50,388.00" stroke="#333" stroke-width="1"/><text x="35.60" y="391.00" font-size="9.0" text-anchor="end" font-weight="normal" font-style="normal" fill="#222" textLength="8.80" lengthAdjust="spacingAndGlyphs" >60</text><path d="M55.40,483.50 L55.40,486.30" stroke="#333" stroke-width="1"/><text x="55.40" y="496.00" font-size="8.6" text-anchor="middle" font-weight="normal" font-style="normal" fill="#222" textLength="12.2" lengthAdjust="spacingAndGlyphs" >WT</text><path d="M82.90,483.50 L82.90,486.30" stroke="#333" stroke-width="1"/><text x="82.50" y="496.00" font-size="8.6" text-anchor="middle" font-weight="normal" font-style="normal" fill="#222" textLength="14.8" lengthAdjust="spacingAndGlyphs" >QT3</text><text x="90.40" y="492.30" font-size="5.6" text-anchor="start" font-weight="normal" font-style="normal" fill="#222" textLength="8.2" lengthAdjust="spacingAndGlyphs" >+/–</text><path d="M110.90,483.50 L110.90,486.30" stroke="#333" stroke-width="1"/><text x="110.90" y="496.00" font-size="8.6" text-anchor="middle" font-weight="normal" font-style="normal" fill="#222" textLength="10.2" lengthAdjust="spacingAndGlyphs" >QT</text><text transform="translate(17.67,436.00) rotate(-90)" x="0" y="0" font-size="9.4" font-weight="normal" text-anchor="middle" dominant-baseline="central" fill="#2a2a2a" stroke="#2a2a2a" stroke-width="0.35" textLength="32.5" lengthAdjust="spacingAndGlyphs">% BM cells</text>
<path d="M55.40,389.40 L111.60,389.40 M55.40,386.30 L55.40,392.50 M111.60,386.30 L111.60,392.50" stroke="#222" stroke-width="1" fill="none"/><polygon points="77.80,383.70 78.33,384.97 79.70,385.08 78.66,385.98 78.98,387.32 77.80,386.60 76.62,387.32 76.94,385.98 75.90,385.08 77.27,384.97" fill="#222"/><polygon points="81.20,383.70 81.73,384.97 83.10,385.08 82.06,385.98 82.38,387.32 81.20,386.60 80.02,387.32 80.34,385.98 79.30,385.08 80.67,384.97" fill="#222"/><polygon points="84.60,383.70 85.13,384.97 86.50,385.08 85.46,385.98 85.78,387.32 84.60,386.60 83.42,387.32 83.74,385.98 82.70,385.08 84.07,384.97" fill="#222"/>
<path d="M55.40,397.20 L87.40,397.20 M55.40,394.10 L55.40,400.30 M87.40,394.10 L87.40,400.30" stroke="#222" stroke-width="1" fill="none"/><polygon points="66.80,392.10 67.33,393.37 68.70,393.48 67.66,394.38 67.98,395.72 66.80,395.00 65.62,395.72 65.94,394.38 64.90,393.48 66.27,393.37" fill="#222"/><polygon points="70.20,392.10 70.73,393.37 72.10,393.48 71.06,394.38 71.38,395.72 70.20,395.00 69.02,395.72 69.34,394.38 68.30,393.48 69.67,393.37" fill="#222"/><polygon points="73.60,392.10 74.13,393.37 75.50,393.48 74.46,394.38 74.78,395.72 73.60,395.00 72.42,395.72 72.74,394.38 71.70,393.48 73.07,393.37" fill="#222"/>
<path d="M82.30,405.30 L111.60,405.30 M82.30,402.20 L82.30,408.40 M111.60,402.20 L111.60,408.40" stroke="#222" stroke-width="1" fill="none"/><polygon points="93.00,400.20 93.53,401.47 94.90,401.58 93.86,402.48 94.18,403.82 93.00,403.10 91.82,403.82 92.14,402.48 91.10,401.58 92.47,401.47" fill="#222"/><polygon points="96.40,400.20 96.93,401.47 98.30,401.58 97.26,402.48 97.58,403.82 96.40,403.10 95.22,403.82 95.54,402.48 94.50,401.58 95.87,401.47" fill="#222"/><polygon points="99.80,400.20 100.33,401.47 101.70,401.58 100.66,402.48 100.98,403.82 99.80,403.10 98.62,403.82 98.94,402.48 97.90,401.58 99.27,401.47" fill="#222"/>
<circle cx="51.77" cy="402.36" r="1.6" fill="#111"/><circle cx="55.53" cy="406.11" r="1.6" fill="#111"/><circle cx="59.29" cy="403.50" r="1.6" fill="#111"/><circle cx="47.85" cy="415.92" r="1.6" fill="#111"/><circle cx="51.77" cy="414.94" r="1.6" fill="#111"/><circle cx="55.53" cy="414.29" r="1.6" fill="#111"/><circle cx="59.29" cy="415.92" r="1.6" fill="#111"/><circle cx="63.21" cy="415.92" r="1.6" fill="#111"/><circle cx="47.36" cy="421.97" r="1.6" fill="#111"/><circle cx="51.44" cy="421.15" r="1.6" fill="#111"/><circle cx="55.53" cy="419.84" r="1.6" fill="#111"/><circle cx="59.61" cy="421.15" r="1.6" fill="#111"/><circle cx="63.70" cy="424.09" r="1.6" fill="#111"/><circle cx="47.85" cy="428.51" r="1.6" fill="#111"/><circle cx="51.44" cy="429.32" r="1.6" fill="#111"/><circle cx="55.53" cy="428.51" r="1.6" fill="#111"/><circle cx="59.29" cy="429.00" r="1.6" fill="#111"/><circle cx="51.77" cy="425.24" r="1.6" fill="#111"/><circle cx="55.53" cy="424.75" r="1.6" fill="#111"/><circle cx="59.29" cy="425.24" r="1.6" fill="#111"/><circle cx="47.36" cy="426.06" r="1.6" fill="#111"/><circle cx="55.53" cy="433.41" r="1.6" fill="#111"/><circle cx="55.53" cy="443.22" r="1.6" fill="#111"/><circle cx="59.29" cy="439.46" r="1.6" fill="#111"/><circle cx="63.70" cy="419.52" r="1.6" fill="#111"/>
<circle cx="83.31" cy="413.80" r="1.6" fill="#1faa3a"/><circle cx="75.63" cy="429.32" r="1.6" fill="#1faa3a"/><circle cx="79.56" cy="430.14" r="1.6" fill="#1faa3a"/><circle cx="83.31" cy="431.29" r="1.6" fill="#1faa3a"/><circle cx="87.40" cy="429.65" r="1.6" fill="#1faa3a"/><circle cx="91.00" cy="429.65" r="1.6" fill="#1faa3a"/><circle cx="85.44" cy="428.51" r="1.6" fill="#1faa3a"/><circle cx="75.63" cy="435.86" r="1.6" fill="#1faa3a"/><circle cx="79.56" cy="436.68" r="1.6" fill="#1faa3a"/><circle cx="83.31" cy="437.82" r="1.6" fill="#1faa3a"/><circle cx="87.40" cy="435.86" r="1.6" fill="#1faa3a"/><circle cx="79.23" cy="439.95" r="1.6" fill="#1faa3a"/><circle cx="83.31" cy="440.44" r="1.6" fill="#1faa3a"/><circle cx="87.40" cy="440.77" r="1.6" fill="#1faa3a"/><circle cx="79.56" cy="444.85" r="1.6" fill="#1faa3a"/><circle cx="83.31" cy="444.85" r="1.6" fill="#1faa3a"/><circle cx="87.40" cy="444.85" r="1.6" fill="#1faa3a"/><circle cx="79.56" cy="449.76" r="1.6" fill="#1faa3a"/><circle cx="87.40" cy="449.27" r="1.6" fill="#1faa3a"/><circle cx="83.31" cy="453.03" r="1.6" fill="#1faa3a"/><circle cx="83.31" cy="462.02" r="1.6" fill="#1faa3a"/>
<circle cx="111.10" cy="432.27" r="1.6" fill="#c8102e"/><circle cx="111.10" cy="448.94" r="1.6" fill="#c8102e"/><circle cx="114.86" cy="447.30" r="1.6" fill="#c8102e"/><circle cx="107.02" cy="454.66" r="1.6" fill="#c8102e"/><circle cx="111.10" cy="453.84" r="1.6" fill="#c8102e"/><circle cx="114.86" cy="453.03" r="1.6" fill="#c8102e"/><circle cx="107.02" cy="457.11" r="1.6" fill="#c8102e"/><circle cx="111.10" cy="459.56" r="1.6" fill="#c8102e"/><circle cx="107.02" cy="470.19" r="1.6" fill="#c8102e"/><circle cx="111.10" cy="473.13" r="1.6" fill="#c8102e"/><circle cx="114.86" cy="476.73" r="1.6" fill="#c8102e"/><circle cx="111.10" cy="481.63" r="1.6" fill="#c8102e"/>
<path d="M46.20,422.00 L65.30,422.00" stroke="#222" stroke-width="1.35"/><path d="M55.75,420.00 L55.75,424.20 M52.25,420.00 L59.25,420.00 M52.25,424.20 L59.25,424.20" stroke="#222" stroke-width="1"/>
<path d="M73.50,438.30 L93.10,438.30" stroke="#222" stroke-width="1.35"/><path d="M83.30,435.00 L83.30,441.50 M79.30,435.00 L87.30,435.00 M79.30,441.50 L87.30,441.50" stroke="#222" stroke-width="1"/>
<path d="M101.30,459.20 L120.60,459.20" stroke="#222" stroke-width="1.35"/><path d="M110.95,455.50 L110.95,462.80 M106.95,455.50 L114.95,455.50 M106.95,462.80 L114.95,462.80" stroke="#222" stroke-width="1"/>
<path d="M169.10,388.70 L169.10,484.20 L253.20,484.20" stroke="#333" stroke-width="1.15" fill="none"/><path d="M165.90,484.20 L169.10,484.20" stroke="#333" stroke-width="1"/><text x="163.20" y="487.20" font-size="9.0" text-anchor="end" font-weight="normal" font-style="normal" fill="#222" textLength="4.40" lengthAdjust="spacingAndGlyphs" >0</text><path d="M165.90,460.32 L169.10,460.32" stroke="#333" stroke-width="1"/><text x="163.20" y="463.32" font-size="9.0" text-anchor="end" font-weight="normal" font-style="normal" fill="#222" textLength="4.40" lengthAdjust="spacingAndGlyphs" >5</text><path d="M165.90,436.45 L169.10,436.45" stroke="#333" stroke-width="1"/><text x="163.20" y="439.45" font-size="9.0" text-anchor="end" font-weight="normal" font-style="normal" fill="#222" textLength="8.80" lengthAdjust="spacingAndGlyphs" >10</text><path d="M165.90,412.57 L169.10,412.57" stroke="#333" stroke-width="1"/><text x="163.20" y="415.57" font-size="9.0" text-anchor="end" font-weight="normal" font-style="normal" fill="#222" textLength="8.80" lengthAdjust="spacingAndGlyphs" >15</text><path d="M165.90,388.70 L169.10,388.70" stroke="#333" stroke-width="1"/><text x="163.20" y="391.70" font-size="9.0" text-anchor="end" font-weight="normal" font-style="normal" fill="#222" textLength="8.80" lengthAdjust="spacingAndGlyphs" >20</text><path d="M183.10,484.20 L183.10,487.00" stroke="#333" stroke-width="1"/><text x="183.10" y="496.70" font-size="8.6" text-anchor="middle" font-weight="normal" font-style="normal" fill="#222" textLength="12.2" lengthAdjust="spacingAndGlyphs" >WT</text><path d="M211.10,484.20 L211.10,487.00" stroke="#333" stroke-width="1"/><text x="210.70" y="496.70" font-size="8.6" text-anchor="middle" font-weight="normal" font-style="normal" fill="#222" textLength="14.8" lengthAdjust="spacingAndGlyphs" >QT3</text><text x="218.60" y="493.00" font-size="5.6" text-anchor="start" font-weight="normal" font-style="normal" fill="#222" textLength="8.2" lengthAdjust="spacingAndGlyphs" >+/–</text><path d="M238.80,484.20 L238.80,487.00" stroke="#333" stroke-width="1"/><text x="238.80" y="496.70" font-size="8.6" text-anchor="middle" font-weight="normal" font-style="normal" fill="#222" textLength="10.2" lengthAdjust="spacingAndGlyphs" >QT</text><text transform="translate(147.47,434.40) rotate(-90)" x="0" y="0" font-size="9.4" font-weight="normal" text-anchor="middle" dominant-baseline="central" fill="#2a2a2a" stroke="#2a2a2a" stroke-width="0.35" textLength="31.5" lengthAdjust="spacingAndGlyphs">Cell # x10<tspan font-size="6" dy="-3">6</tspan></text>
<path d="M184.20,390.10 L237.60,390.10 M184.20,387.00 L184.20,393.20 M237.60,387.00 L237.60,393.20" stroke="#222" stroke-width="1" fill="none"/><polygon points="208.20,384.50 208.73,385.77 210.10,385.88 209.06,386.78 209.38,388.12 208.20,387.40 207.02,388.12 207.34,386.78 206.30,385.88 207.67,385.77" fill="#222"/><polygon points="211.60,384.50 212.13,385.77 213.50,385.88 212.46,386.78 212.78,388.12 211.60,387.40 210.42,388.12 210.74,386.78 209.70,385.88 211.07,385.77" fill="#222"/><polygon points="215.00,384.50 215.53,385.77 216.90,385.88 215.86,386.78 216.18,388.12 215.00,387.40 213.82,388.12 214.14,386.78 213.10,385.88 214.47,385.77" fill="#222"/>
<path d="M211.30,399.90 L237.60,399.90 M211.30,396.80 L211.30,403.00 M237.60,396.80 L237.60,403.00" stroke="#222" stroke-width="1" fill="none"/><polygon points="223.40,394.80 223.93,396.07 225.30,396.18 224.26,397.08 224.58,398.42 223.40,397.70 222.22,398.42 222.54,397.08 221.50,396.18 222.87,396.07" fill="#222"/><polygon points="226.80,394.80 227.33,396.07 228.70,396.18 227.66,397.08 227.98,398.42 226.80,397.70 225.62,398.42 225.94,397.08 224.90,396.18 226.27,396.07" fill="#222"/>
<circle cx="180.00" cy="408.75" r="1.6" fill="#111"/><circle cx="183.75" cy="410.00" r="1.6" fill="#111"/><circle cx="187.50" cy="411.25" r="1.6" fill="#111"/><circle cx="180.00" cy="415.50" r="1.6" fill="#111"/><circle cx="183.75" cy="417.50" r="1.6" fill="#111"/><circle cx="187.50" cy="417.00" r="1.6" fill="#111"/><circle cx="180.00" cy="421.25" r="1.6" fill="#111"/><circle cx="187.50" cy="422.50" r="1.6" fill="#111"/><circle cx="183.75" cy="425.00" r="1.6" fill="#111"/><circle cx="180.00" cy="428.75" r="1.6" fill="#111"/><circle cx="187.50" cy="430.00" r="1.6" fill="#111"/><circle cx="183.75" cy="432.50" r="1.6" fill="#111"/><circle cx="180.00" cy="441.25" r="1.6" fill="#111"/><circle cx="187.50" cy="443.00" r="1.6" fill="#111"/><circle cx="180.00" cy="448.75" r="1.6" fill="#111"/><circle cx="183.75" cy="451.25" r="1.6" fill="#111"/><circle cx="187.50" cy="449.50" r="1.6" fill="#111"/><circle cx="183.75" cy="414.50" r="1.6" fill="#111"/>
<circle cx="211.25" cy="408.00" r="1.6" fill="#1faa3a"/><circle cx="211.25" cy="418.00" r="1.6" fill="#1faa3a"/><circle cx="207.50" cy="427.50" r="1.6" fill="#1faa3a"/><circle cx="215.00" cy="425.00" r="1.6" fill="#1faa3a"/><circle cx="205.00" cy="433.75" r="1.6" fill="#1faa3a"/><circle cx="211.25" cy="433.75" r="1.6" fill="#1faa3a"/><circle cx="215.00" cy="430.00" r="1.6" fill="#1faa3a"/><circle cx="205.00" cy="446.25" r="1.6" fill="#1faa3a"/><circle cx="211.25" cy="447.00" r="1.6" fill="#1faa3a"/><circle cx="216.25" cy="443.75" r="1.6" fill="#1faa3a"/><circle cx="207.50" cy="441.25" r="1.6" fill="#1faa3a"/><circle cx="211.25" cy="440.00" r="1.6" fill="#1faa3a"/><circle cx="211.25" cy="451.25" r="1.6" fill="#1faa3a"/><circle cx="211.25" cy="457.50" r="1.6" fill="#1faa3a"/><circle cx="205.00" cy="437.00" r="1.6" fill="#1faa3a"/>
<circle cx="235.00" cy="445.50" r="1.6" fill="#c8102e"/><circle cx="242.50" cy="443.75" r="1.6" fill="#c8102e"/><circle cx="235.00" cy="458.75" r="1.6" fill="#c8102e"/><circle cx="240.00" cy="460.00" r="1.6" fill="#c8102e"/><circle cx="235.00" cy="476.25" r="1.6" fill="#c8102e"/><circle cx="240.00" cy="477.50" r="1.6" fill="#c8102e"/>
<path d="M173.80,426.30 L192.50,426.30" stroke="#222" stroke-width="1.35"/><path d="M183.15,422.50 L183.15,429.80 M179.65,422.50 L186.65,422.50 M179.65,429.80 L186.65,429.80" stroke="#222" stroke-width="1"/>
<path d="M201.30,437.50 L220.50,437.50" stroke="#222" stroke-width="1.35"/><path d="M210.90,433.50 L210.90,441.00 M206.90,433.50 L214.90,433.50 M206.90,441.00 L214.90,441.00" stroke="#222" stroke-width="1"/>
<path d="M230.00,463.00 L248.00,463.00" stroke="#222" stroke-width="1.35"/><path d="M239.00,457.50 L239.00,468.50 M235.00,457.50 L243.00,457.50 M235.00,468.50 L243.00,468.50" stroke="#222" stroke-width="1"/>
<text x="266.00" y="368.20" font-size="10.5" text-anchor="start" font-weight="bold" font-style="normal" fill="#111" >G</text>
<text x="398.90" y="372.10" font-size="9.5" text-anchor="middle" font-weight="normal" font-style="normal" fill="#222" textLength="55" lengthAdjust="spacingAndGlyphs" >Myeloid cells</text>
<path d="M302.70,388.00 L302.70,483.50 L384.00,483.50" stroke="#333" stroke-width="1.15" fill="none"/><path d="M299.50,483.50 L302.70,483.50" stroke="#333" stroke-width="1"/><text x="296.80" y="486.50" font-size="9.0" text-anchor="end" font-weight="normal" font-style="normal" fill="#222" textLength="4.40" lengthAdjust="spacingAndGlyphs" >0</text><path d="M299.50,464.40 L302.70,464.40" stroke="#333" stroke-width="1"/><text x="296.80" y="467.40" font-size="9.0" text-anchor="end" font-weight="normal" font-style="normal" fill="#222" textLength="8.80" lengthAdjust="spacingAndGlyphs" >20</text><path d="M299.50,445.30 L302.70,445.30" stroke="#333" stroke-width="1"/><text x="296.80" y="448.30" font-size="9.0" text-anchor="end" font-weight="normal" font-style="normal" fill="#222" textLength="8.80" lengthAdjust="spacingAndGlyphs" >40</text><path d="M299.50,426.20 L302.70,426.20" stroke="#333" stroke-width="1"/><text x="296.80" y="429.20" font-size="9.0" text-anchor="end" font-weight="normal" font-style="normal" fill="#222" textLength="8.80" lengthAdjust="spacingAndGlyphs" >60</text><path d="M299.50,407.10 L302.70,407.10" stroke="#333" stroke-width="1"/><text x="296.80" y="410.10" font-size="9.0" text-anchor="end" font-weight="normal" font-style="normal" fill="#222" textLength="8.80" lengthAdjust="spacingAndGlyphs" >80</text><path d="M299.50,388.00 L302.70,388.00" stroke="#333" stroke-width="1"/><text x="296.80" y="391.00" font-size="9.0" text-anchor="end" font-weight="normal" font-style="normal" fill="#222" textLength="13.20" lengthAdjust="spacingAndGlyphs" >100</text><path d="M315.80,483.50 L315.80,486.30" stroke="#333" stroke-width="1"/><text x="315.80" y="496.00" font-size="8.6" text-anchor="middle" font-weight="normal" font-style="normal" fill="#222" textLength="12.2" lengthAdjust="spacingAndGlyphs" >WT</text><path d="M343.10,483.50 L343.10,486.30" stroke="#333" stroke-width="1"/><text x="342.70" y="496.00" font-size="8.6" text-anchor="middle" font-weight="normal" font-style="normal" fill="#222" textLength="14.8" lengthAdjust="spacingAndGlyphs" >QT3</text><text x="350.60" y="492.30" font-size="5.6" text-anchor="start" font-weight="normal" font-style="normal" fill="#222" textLength="8.2" lengthAdjust="spacingAndGlyphs" >+/–</text><path d="M370.60,483.50 L370.60,486.30" stroke="#333" stroke-width="1"/><text x="370.60" y="496.00" font-size="8.6" text-anchor="middle" font-weight="normal" font-style="normal" fill="#222" textLength="10.2" lengthAdjust="spacingAndGlyphs" >QT</text><text transform="translate(277.37,436.00) rotate(-90)" x="0" y="0" font-size="9.4" font-weight="normal" text-anchor="middle" dominant-baseline="central" fill="#2a2a2a" stroke="#2a2a2a" stroke-width="0.35" textLength="32.5" lengthAdjust="spacingAndGlyphs">% BM cells</text>
<path d="M313.70,387.10 L367.70,387.10 M313.70,384.00 L313.70,390.20 M367.70,384.00 L367.70,390.20" stroke="#222" stroke-width="1" fill="none"/><polygon points="335.70,381.30 336.23,382.57 337.60,382.68 336.56,383.58 336.88,384.92 335.70,384.20 334.52,384.92 334.84,383.58 333.80,382.68 335.17,382.57" fill="#222"/><polygon points="339.10,381.30 339.63,382.57 341.00,382.68 339.96,383.58 340.28,384.92 339.10,384.20 337.92,384.92 338.24,383.58 337.20,382.68 338.57,382.57" fill="#222"/>
<circle cx="308.75" cy="433.75" r="1.6" fill="#111"/><circle cx="313.75" cy="429.50" r="1.6" fill="#111"/><circle cx="319.50" cy="429.50" r="1.6" fill="#111"/><circle cx="308.75" cy="438.75" r="1.6" fill="#111"/><circle cx="313.75" cy="437.50" r="1.6" fill="#111"/><circle cx="319.50" cy="438.00" r="1.6" fill="#111"/><circle cx="315.50" cy="444.50" r="1.6" fill="#111"/><circle cx="311.25" cy="452.50" r="1.6" fill="#111"/><circle cx="319.50" cy="453.00" r="1.6" fill="#111"/><circle cx="315.50" cy="457.50" r="1.6" fill="#111"/><circle cx="315.50" cy="465.00" r="1.6" fill="#111"/><circle cx="319.50" cy="433.75" r="1.6" fill="#111"/>
<circle cx="339.50" cy="415.50" r="1.6" fill="#1faa3a"/><circle cx="342.50" cy="413.75" r="1.6" fill="#1faa3a"/><circle cx="346.25" cy="420.50" r="1.6" fill="#1faa3a"/><circle cx="339.50" cy="423.75" r="1.6" fill="#1faa3a"/><circle cx="339.50" cy="430.50" r="1.6" fill="#1faa3a"/><circle cx="346.25" cy="429.50" r="1.6" fill="#1faa3a"/><circle cx="342.50" cy="436.25" r="1.6" fill="#1faa3a"/><circle cx="342.50" cy="447.50" r="1.6" fill="#1faa3a"/><circle cx="342.50" cy="458.75" r="1.6" fill="#1faa3a"/>
<circle cx="370.00" cy="397.50" r="1.6" fill="#c8102e"/><circle cx="363.75" cy="408.75" r="1.6" fill="#c8102e"/><circle cx="370.00" cy="408.00" r="1.6" fill="#c8102e"/><circle cx="377.50" cy="413.75" r="1.6" fill="#c8102e"/><circle cx="362.50" cy="415.50" r="1.6" fill="#c8102e"/><circle cx="370.00" cy="417.00" r="1.6" fill="#c8102e"/><circle cx="377.50" cy="417.50" r="1.6" fill="#c8102e"/><circle cx="370.00" cy="457.00" r="1.6" fill="#c8102e"/>
<path d="M306.30,441.30 L325.50,441.30" stroke="#222" stroke-width="1.35"/><path d="M315.90,437.50 L315.90,445.00 M312.40,437.50 L319.40,437.50 M312.40,445.00 L319.40,445.00" stroke="#222" stroke-width="1"/>
<path d="M333.80,430.50 L353.00,430.50" stroke="#222" stroke-width="1.35"/><path d="M343.40,426.00 L343.40,434.50 M339.40,426.00 L347.40,426.00 M339.40,434.50 L347.40,434.50" stroke="#222" stroke-width="1"/>
<path d="M361.30,417.50 L379.50,417.50" stroke="#222" stroke-width="1.35"/><path d="M370.40,412.00 L370.40,423.80 M366.40,412.00 L374.40,412.00 M366.40,423.80 L374.40,423.80" stroke="#222" stroke-width="1"/>
<path d="M425.20,387.50 L425.20,483.10 L506.60,483.10" stroke="#333" stroke-width="1.15" fill="none"/><path d="M422.00,483.10 L425.20,483.10" stroke="#333" stroke-width="1"/><text x="419.30" y="486.10" font-size="9.0" text-anchor="end" font-weight="normal" font-style="normal" fill="#222" textLength="4.40" lengthAdjust="spacingAndGlyphs" >0</text><path d="M422.00,459.20 L425.20,459.20" stroke="#333" stroke-width="1"/><text x="419.30" y="462.20" font-size="9.0" text-anchor="end" font-weight="normal" font-style="normal" fill="#222" textLength="8.80" lengthAdjust="spacingAndGlyphs" >10</text><path d="M422.00,435.30 L425.20,435.30" stroke="#333" stroke-width="1"/><text x="419.30" y="438.30" font-size="9.0" text-anchor="end" font-weight="normal" font-style="normal" fill="#222" textLength="8.80" lengthAdjust="spacingAndGlyphs" >20</text><path d="M422.00,411.40 L425.20,411.40" stroke="#333" stroke-width="1"/><text x="419.30" y="414.40" font-size="9.0" text-anchor="end" font-weight="normal" font-style="normal" fill="#222" textLength="8.80" lengthAdjust="spacingAndGlyphs" >30</text><path d="M422.00,387.50 L425.20,387.50" stroke="#333" stroke-width="1"/><text x="419.30" y="390.50" font-size="9.0" text-anchor="end" font-weight="normal" font-style="normal" fill="#222" textLength="8.80" lengthAdjust="spacingAndGlyphs" >40</text><path d="M438.30,483.10 L438.30,485.90" stroke="#333" stroke-width="1"/><text x="438.30" y="495.60" font-size="8.6" text-anchor="middle" font-weight="normal" font-style="normal" fill="#222" textLength="12.2" lengthAdjust="spacingAndGlyphs" >WT</text><path d="M465.60,483.10 L465.60,485.90" stroke="#333" stroke-width="1"/><text x="465.20" y="495.60" font-size="8.6" text-anchor="middle" font-weight="normal" font-style="normal" fill="#222" textLength="14.8" lengthAdjust="spacingAndGlyphs" >QT3</text><text x="473.10" y="491.90" font-size="5.6" text-anchor="start" font-weight="normal" font-style="normal" fill="#222" textLength="8.2" lengthAdjust="spacingAndGlyphs" >+/–</text><path d="M492.80,483.10 L492.80,485.90" stroke="#333" stroke-width="1"/><text x="492.80" y="495.60" font-size="8.6" text-anchor="middle" font-weight="normal" font-style="normal" fill="#222" textLength="10.2" lengthAdjust="spacingAndGlyphs" >QT</text><text transform="translate(399.97,435.20) rotate(-90)" x="0" y="0" font-size="9.4" font-weight="normal" text-anchor="middle" dominant-baseline="central" fill="#2a2a2a" stroke="#2a2a2a" stroke-width="0.35" textLength="31.5" lengthAdjust="spacingAndGlyphs">Cell # x10<tspan font-size="6" dy="-3">6</tspan></text>
<circle cx="438.75" cy="423.00" r="1.6" fill="#111"/><circle cx="435.00" cy="432.00" r="1.6" fill="#111"/><circle cx="442.00" cy="430.50" r="1.6" fill="#111"/><circle cx="438.75" cy="436.25" r="1.6" fill="#111"/><circle cx="435.00" cy="439.50" r="1.6" fill="#111"/><circle cx="442.50" cy="437.50" r="1.6" fill="#111"/><circle cx="438.75" cy="445.00" r="1.6" fill="#111"/><circle cx="435.00" cy="453.00" r="1.6" fill="#111"/><circle cx="442.50" cy="450.50" r="1.6" fill="#111"/><circle cx="438.75" cy="459.50" r="1.6" fill="#111"/><circle cx="438.75" cy="473.00" r="1.6" fill="#111"/><circle cx="442.00" cy="470.50" r="1.6" fill="#111"/><circle cx="435.00" cy="448.75" r="1.6" fill="#111"/>
<circle cx="469.50" cy="401.75" r="1.6" fill="#1faa3a"/><circle cx="465.50" cy="403.75" r="1.6" fill="#1faa3a"/><circle cx="465.50" cy="411.25" r="1.6" fill="#1faa3a"/><circle cx="465.50" cy="419.50" r="1.6" fill="#1faa3a"/><circle cx="469.50" cy="426.25" r="1.6" fill="#1faa3a"/><circle cx="462.50" cy="452.00" r="1.6" fill="#1faa3a"/><circle cx="465.50" cy="454.50" r="1.6" fill="#1faa3a"/><circle cx="469.50" cy="467.50" r="1.6" fill="#1faa3a"/><circle cx="465.50" cy="471.25" r="1.6" fill="#1faa3a"/><circle cx="462.50" cy="427.50" r="1.6" fill="#1faa3a"/>
<circle cx="496.25" cy="403.75" r="1.6" fill="#c8102e"/><circle cx="492.50" cy="407.50" r="1.6" fill="#c8102e"/><circle cx="492.50" cy="427.50" r="1.6" fill="#c8102e"/><circle cx="488.75" cy="437.50" r="1.6" fill="#c8102e"/><circle cx="496.25" cy="442.50" r="1.6" fill="#c8102e"/><circle cx="492.50" cy="465.00" r="1.6" fill="#c8102e"/><circle cx="492.50" cy="476.25" r="1.6" fill="#c8102e"/>
<path d="M429.00,445.80 L448.50,445.80" stroke="#222" stroke-width="1.35"/><path d="M438.75,441.50 L438.75,450.00 M435.25,441.50 L442.25,441.50 M435.25,450.00 L442.25,450.00" stroke="#222" stroke-width="1"/>
<path d="M455.50,435.20 L475.00,435.20" stroke="#222" stroke-width="1.35"/><path d="M465.25,427.50 L465.25,442.50 M461.25,427.50 L469.25,427.50 M461.25,442.50 L469.25,442.50" stroke="#222" stroke-width="1"/>
<path d="M484.00,437.80 L502.00,437.80" stroke="#222" stroke-width="1.35"/><path d="M493.00,429.00 L493.00,446.50 M489.00,429.00 L497.00,429.00 M489.00,446.50 L497.00,446.50" stroke="#222" stroke-width="1"/>
<text x="12.20" y="517.60" font-size="10.5" text-anchor="start" font-weight="bold" font-style="normal" fill="#111" >H</text>
<text x="133.60" y="519.60" font-size="9.3" text-anchor="middle" font-weight="normal" font-style="normal" fill="#222" textLength="42.5" lengthAdjust="spacingAndGlyphs" >Pro B cells</text>
<path d="M46.40,529.30 L46.40,633.10 L116.50,633.10" stroke="#333" stroke-width="1.15" fill="none"/><path d="M43.20,633.10 L46.40,633.10" stroke="#333" stroke-width="1"/><text x="40.50" y="636.10" font-size="9.0" text-anchor="end" font-weight="normal" font-style="normal" fill="#222" textLength="4.40" lengthAdjust="spacingAndGlyphs" >0</text><path d="M43.20,598.50 L46.40,598.50" stroke="#333" stroke-width="1"/><text x="40.50" y="601.50" font-size="9.0" text-anchor="end" font-weight="normal" font-style="normal" fill="#222" textLength="4.40" lengthAdjust="spacingAndGlyphs" >1</text><path d="M43.20,563.90 L46.40,563.90" stroke="#333" stroke-width="1"/><text x="40.50" y="566.90" font-size="9.0" text-anchor="end" font-weight="normal" font-style="normal" fill="#222" textLength="4.40" lengthAdjust="spacingAndGlyphs" >2</text><path d="M43.20,529.30 L46.40,529.30" stroke="#333" stroke-width="1"/><text x="40.50" y="532.30" font-size="9.0" text-anchor="end" font-weight="normal" font-style="normal" fill="#222" textLength="4.40" lengthAdjust="spacingAndGlyphs" >3</text><path d="M66.30,633.10 L66.30,635.90" stroke="#333" stroke-width="1"/><text x="66.30" y="644.80" font-size="8.6" text-anchor="middle" font-weight="normal" font-style="normal" fill="#222" textLength="12.2" lengthAdjust="spacingAndGlyphs" >WT</text><path d="M96.10,633.10 L96.10,635.90" stroke="#333" stroke-width="1"/><text x="95.70" y="644.80" font-size="8.6" text-anchor="middle" font-weight="normal" font-style="normal" fill="#222" textLength="14.8" lengthAdjust="spacingAndGlyphs" >QT3</text><text x="103.60" y="641.10" font-size="5.6" text-anchor="start" font-weight="normal" font-style="normal" fill="#222" textLength="8.2" lengthAdjust="spacingAndGlyphs" >+/–</text><text transform="translate(26.87,581.00) rotate(-90)" x="0" y="0" font-size="9.4" font-weight="normal" text-anchor="middle" dominant-baseline="central" fill="#2a2a2a" stroke="#2a2a2a" stroke-width="0.35" textLength="32.5" lengthAdjust="spacingAndGlyphs">% BM cells</text>
<rect x="56.30" y="557.40" width="20.10" height="75.70" fill="#231f20"/>
<path d="M66.30,557.40 L66.30,548.00 M61.55,548.00 L71.05,548.00" stroke="#222" stroke-width="1.15"/>
<rect x="86.20" y="590.50" width="20.00" height="42.60" fill="#3cb54a"/>
<path d="M96.20,590.50 L96.20,581.80 M91.60,581.80 L100.80,581.80" stroke="#222" stroke-width="1.15"/>
<path d="M62.40,540.70 L100.00,540.70" stroke="#222" stroke-width="1.1"/><polygon points="77.40,533.30 77.93,534.57 79.30,534.68 78.26,535.58 78.58,536.92 77.40,536.20 76.22,536.92 76.54,535.58 75.50,534.68 76.87,534.57" fill="#222"/>
<path d="M167.70,529.30 L167.70,633.10 L238.10,633.10" stroke="#333" stroke-width="1.15" fill="none"/><path d="M164.50,633.10 L167.70,633.10" stroke="#333" stroke-width="1"/><text x="163.10" y="636.10" font-size="9.0" text-anchor="end" font-weight="normal" font-style="normal" fill="#222" textLength="10.40" lengthAdjust="spacingAndGlyphs" >0.0</text><path d="M164.50,612.34 L167.70,612.34" stroke="#333" stroke-width="1"/><text x="163.10" y="615.34" font-size="9.0" text-anchor="end" font-weight="normal" font-style="normal" fill="#222" textLength="10.40" lengthAdjust="spacingAndGlyphs" >0.2</text><path d="M164.50,591.58 L167.70,591.58" stroke="#333" stroke-width="1"/><text x="163.10" y="594.58" font-size="9.0" text-anchor="end" font-weight="normal" font-style="normal" fill="#222" textLength="10.40" lengthAdjust="spacingAndGlyphs" >0.4</text><path d="M164.50,570.82 L167.70,570.82" stroke="#333" stroke-width="1"/><text x="163.10" y="573.82" font-size="9.0" text-anchor="end" font-weight="normal" font-style="normal" fill="#222" textLength="10.40" lengthAdjust="spacingAndGlyphs" >0.6</text><path d="M164.50,550.06 L167.70,550.06" stroke="#333" stroke-width="1"/><text x="163.10" y="553.06" font-size="9.0" text-anchor="end" font-weight="normal" font-style="normal" fill="#222" textLength="10.40" lengthAdjust="spacingAndGlyphs" >0.8</text><path d="M164.50,529.30 L167.70,529.30" stroke="#333" stroke-width="1"/><text x="163.10" y="532.30" font-size="9.0" text-anchor="end" font-weight="normal" font-style="normal" fill="#222" textLength="10.40" lengthAdjust="spacingAndGlyphs" >1.0</text><path d="M187.50,633.10 L187.50,635.90" stroke="#333" stroke-width="1"/><text x="187.50" y="644.80" font-size="8.6" text-anchor="middle" font-weight="normal" font-style="normal" fill="#222" textLength="12.2" lengthAdjust="spacingAndGlyphs" >WT</text><path d="M217.70,633.10 L217.70,635.90" stroke="#333" stroke-width="1"/><text x="217.30" y="644.80" font-size="8.6" text-anchor="middle" font-weight="normal" font-style="normal" fill="#222" textLength="14.8" lengthAdjust="spacingAndGlyphs" >QT3</text><text x="225.20" y="641.10" font-size="5.6" text-anchor="start" font-weight="normal" font-style="normal" fill="#222" textLength="8.2" lengthAdjust="spacingAndGlyphs" >+/–</text><text transform="translate(144.37,580.00) rotate(-90)" x="0" y="0" font-size="9.4" font-weight="normal" text-anchor="middle" dominant-baseline="central" fill="#2a2a2a" stroke="#2a2a2a" stroke-width="0.35" textLength="33.5" lengthAdjust="spacingAndGlyphs">Cells # x10<tspan font-size="6" dy="-3">6</tspan></text>
<rect x="177.90" y="553.00" width="19.80" height="80.10" fill="#231f20"/>
<path d="M187.80,553.00 L187.80,538.80 M182.80,538.80 L192.80,538.80" stroke="#222" stroke-width="1.15"/>
<rect x="207.30" y="580.50" width="20.60" height="52.60" fill="#3cb54a"/>
<path d="M217.60,580.50 L217.60,570.50 M212.60,570.50 L222.60,570.50" stroke="#222" stroke-width="1.15"/>
<rect x="273.6" y="510.5" width="2.3" height="7.1" fill="#111"/>
<text x="404.10" y="519.60" font-size="9.3" text-anchor="middle" font-weight="normal" font-style="normal" fill="#222" textLength="42" lengthAdjust="spacingAndGlyphs" >Pre B cells</text>
<path d="M306.30,529.30 L306.30,633.10 L376.20,633.10" stroke="#333" stroke-width="1.15" fill="none"/><path d="M303.10,633.10 L306.30,633.10" stroke="#333" stroke-width="1"/><text x="300.40" y="636.10" font-size="9.0" text-anchor="end" font-weight="normal" font-style="normal" fill="#222" textLength="4.40" lengthAdjust="spacingAndGlyphs" >0</text><path d="M303.10,598.50 L306.30,598.50" stroke="#333" stroke-width="1"/><text x="300.40" y="601.50" font-size="9.0" text-anchor="end" font-weight="normal" font-style="normal" fill="#222" textLength="4.40" lengthAdjust="spacingAndGlyphs" >5</text><path d="M303.10,563.90 L306.30,563.90" stroke="#333" stroke-width="1"/><text x="300.40" y="566.90" font-size="9.0" text-anchor="end" font-weight="normal" font-style="normal" fill="#222" textLength="8.80" lengthAdjust="spacingAndGlyphs" >10</text><path d="M303.10,529.30 L306.30,529.30" stroke="#333" stroke-width="1"/><text x="300.40" y="532.30" font-size="9.0" text-anchor="end" font-weight="normal" font-style="normal" fill="#222" textLength="8.80" lengthAdjust="spacingAndGlyphs" >15</text><path d="M326.20,633.10 L326.20,635.90" stroke="#333" stroke-width="1"/><text x="326.20" y="644.80" font-size="8.6" text-anchor="middle" font-weight="normal" font-style="normal" fill="#222" textLength="12.2" lengthAdjust="spacingAndGlyphs" >WT</text><path d="M356.30,633.10 L356.30,635.90" stroke="#333" stroke-width="1"/><text x="355.90" y="644.80" font-size="8.6" text-anchor="middle" font-weight="normal" font-style="normal" fill="#222" textLength="14.8" lengthAdjust="spacingAndGlyphs" >QT3</text><text x="363.80" y="641.10" font-size="5.6" text-anchor="start" font-weight="normal" font-style="normal" fill="#222" textLength="8.2" lengthAdjust="spacingAndGlyphs" >+/–</text><text transform="translate(282.67,581.00) rotate(-90)" x="0" y="0" font-size="9.4" font-weight="normal" text-anchor="middle" dominant-baseline="central" fill="#2a2a2a" stroke="#2a2a2a" stroke-width="0.35" textLength="32.5" lengthAdjust="spacingAndGlyphs">% BM cells</text>
<rect x="316.00" y="550.40" width="20.20" height="82.70" fill="#231f20"/>
<path d="M326.10,550.40 L326.10,541.10 M321.30,541.10 L330.90,541.10" stroke="#222" stroke-width="1.15"/>
<rect x="345.80" y="590.00" width="20.20" height="43.10" fill="#3cb54a"/>
<path d="M355.90,590.00 L355.90,580.00 M351.30,580.00 L360.50,580.00" stroke="#222" stroke-width="1.15"/>
<path d="M322.90,535.80 L361.00,535.80" stroke="#222" stroke-width="1.1"/><polygon points="338.10,529.90 338.63,531.17 340.00,531.28 338.96,532.18 339.28,533.52 338.10,532.80 336.92,533.52 337.24,532.18 336.20,531.28 337.57,531.17" fill="#222"/>
<path d="M421.90,529.30 L421.90,633.10 L491.70,633.10" stroke="#333" stroke-width="1.15" fill="none"/><path d="M418.70,633.10 L421.90,633.10" stroke="#333" stroke-width="1"/><text x="416.00" y="636.10" font-size="9.0" text-anchor="end" font-weight="normal" font-style="normal" fill="#222" textLength="4.40" lengthAdjust="spacingAndGlyphs" >0</text><path d="M418.70,598.50 L421.90,598.50" stroke="#333" stroke-width="1"/><text x="416.00" y="601.50" font-size="9.0" text-anchor="end" font-weight="normal" font-style="normal" fill="#222" textLength="4.40" lengthAdjust="spacingAndGlyphs" >2</text><path d="M418.70,563.90 L421.90,563.90" stroke="#333" stroke-width="1"/><text x="416.00" y="566.90" font-size="9.0" text-anchor="end" font-weight="normal" font-style="normal" fill="#222" textLength="4.40" lengthAdjust="spacingAndGlyphs" >4</text><path d="M418.70,529.30 L421.90,529.30" stroke="#333" stroke-width="1"/><text x="416.00" y="532.30" font-size="9.0" text-anchor="end" font-weight="normal" font-style="normal" fill="#222" textLength="4.40" lengthAdjust="spacingAndGlyphs" >6</text><path d="M441.70,633.10 L441.70,635.90" stroke="#333" stroke-width="1"/><text x="441.70" y="644.80" font-size="8.6" text-anchor="middle" font-weight="normal" font-style="normal" fill="#222" textLength="12.2" lengthAdjust="spacingAndGlyphs" >WT</text><path d="M471.50,633.10 L471.50,635.90" stroke="#333" stroke-width="1"/><text x="471.10" y="644.80" font-size="8.6" text-anchor="middle" font-weight="normal" font-style="normal" fill="#222" textLength="14.8" lengthAdjust="spacingAndGlyphs" >QT3</text><text x="479.00" y="641.10" font-size="5.6" text-anchor="start" font-weight="normal" font-style="normal" fill="#222" textLength="8.2" lengthAdjust="spacingAndGlyphs" >+/–</text><text transform="translate(401.37,580.00) rotate(-90)" x="0" y="0" font-size="9.4" font-weight="normal" text-anchor="middle" dominant-baseline="central" fill="#2a2a2a" stroke="#2a2a2a" stroke-width="0.35" textLength="33.5" lengthAdjust="spacingAndGlyphs">Cells # x10<tspan font-size="6" dy="-3">6</tspan></text>
<rect x="431.60" y="559.60" width="20.30" height="73.50" fill="#231f20"/>
<path d="M441.90,559.60 L441.90,548.50 M437.10,548.50 L446.70,548.50" stroke="#222" stroke-width="1.15"/>
<rect x="461.00" y="587.50" width="20.50" height="45.60" fill="#3cb54a"/>
<path d="M471.20,587.50 L471.20,578.30 M466.40,578.30 L476.00,578.30" stroke="#222" stroke-width="1.15"/>
<path d="M437.20,543.00 L476.60,543.00" stroke="#222" stroke-width="1.1"/><polygon points="458.00,537.00 458.53,538.27 459.90,538.38 458.86,539.28 459.18,540.62 458.00,539.90 456.82,540.62 457.14,539.28 456.10,538.38 457.47,538.27" fill="#222"/>
<rect x="0.6" y="0.6" width="518.6" height="649.6" fill="none" stroke="#161616" stroke-width="1.3"/>
</svg>
</body></html>
